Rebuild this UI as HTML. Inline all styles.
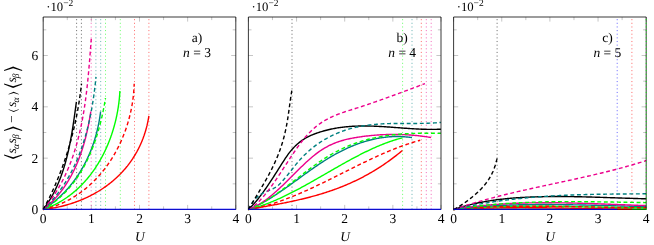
<!DOCTYPE html>
<html lang="en"><head><meta charset="utf-8"><title>Correlations vs U</title>
<style>html,body{margin:0;padding:0;background:#fff}svg{display:block;will-change:transform}text{font-family:"Liberation Serif","DejaVu Serif",serif;font-size:13.5px;fill:#000;text-rendering:geometricPrecision}.i{font-style:italic}.sub{font-size:9.5px}.br{font-family:"DejaVu Math TeX Gyre","DejaVu Sans",sans-serif}</style></head><body>
<svg width="654" height="245" viewBox="0 0 654 245">
<rect width="654" height="245" fill="#fff"/>
<g>
<path d="M43.2 209.5v-4.6M43.2 17v4.6M67.28 209.5v-3.1M67.28 17v3.1M91.35 209.5v-4.6M91.35 17v4.6M115.42 209.5v-3.1M115.42 17v3.1M139.5 209.5v-4.6M139.5 17v4.6M163.57 209.5v-3.1M163.57 17v3.1M187.65 209.5v-4.6M187.65 17v4.6M211.73 209.5v-3.1M211.73 17v3.1M235.8 209.5v-4.6M235.8 17v4.6M43.2 209.5h4.6M235.8 209.5h-4.6M43.2 183.83h3.1M235.8 183.83h-3.1M43.2 158.17h4.6M235.8 158.17h-4.6M43.2 132.5h3.1M235.8 132.5h-3.1M43.2 106.83h4.6M235.8 106.83h-4.6M43.2 81.17h3.1M235.8 81.17h-3.1M43.2 55.5h4.6M235.8 55.5h-4.6M43.2 29.83h3.1M235.8 29.83h-3.1" stroke="#7f7f7f" stroke-width="0.45" fill="none"/>
<path d="M148.9 209.5V17" stroke="#FF0000" stroke-width="0.56" stroke-dasharray="1.1 2.54" fill="none"/>
<path d="M134.5 209.5V17" stroke="#FF0000" stroke-width="0.56" stroke-dasharray="1.1 2.54" fill="none"/>
<path d="M120.3 209.5V17" stroke="#00FF00" stroke-width="0.56" stroke-dasharray="1.1 2.54" fill="none"/>
<path d="M105.5 209.5V17" stroke="#00FF00" stroke-width="0.56" stroke-dasharray="1.1 2.54" fill="none"/>
<path d="M100.7 209.5V17" stroke="#008080" stroke-width="0.56" stroke-dasharray="1.1 2.54" fill="none"/>
<path d="M95.9 209.5V17" stroke="#008080" stroke-width="0.56" stroke-dasharray="1.1 2.54" fill="none"/>
<path d="M91.2 209.5V17" stroke="#EC008C" stroke-width="0.56" stroke-dasharray="1.1 2.54" fill="none"/>
<path d="M81.4 209.5V17" stroke="#000000" stroke-width="0.56" stroke-dasharray="1.1 2.54" fill="none"/>
<path d="M76.6 209.5V17" stroke="#000000" stroke-width="0.56" stroke-dasharray="1.1 2.54" fill="none"/>
<g fill="none" stroke-width="1.4" stroke-linejoin="round">
<path d="M43.2 209.5 L44.2 209.38 L45.2 209.26 L46.19 209.13 L47.18 209 L48.17 208.86 L49.16 208.71 L50.15 208.56 L51.13 208.4 L52.11 208.23 L53.09 208.06 L54.07 207.88 L55.04 207.69 L56.01 207.5 L56.98 207.3 L57.95 207.1 L58.91 206.89 L59.87 206.67 L60.83 206.45 L61.78 206.22 L62.74 205.98 L63.69 205.74 L64.63 205.49 L65.58 205.24 L66.52 204.98 L67.45 204.71 L68.39 204.44 L69.32 204.16 L70.25 203.87 L71.17 203.58 L72.1 203.28 L73.01 202.98 L73.93 202.67 L74.84 202.35 L75.75 202.03 L76.65 201.7 L77.56 201.36 L78.45 201.02 L79.35 200.68 L80.24 200.32 L81.13 199.96 L82.01 199.6 L82.89 199.23 L83.76 198.85 L84.64 198.46 L85.5 198.07 L86.37 197.68 L87.23 197.28 L88.09 196.87 L88.94 196.45 L89.79 196.03 L90.63 195.61 L91.47 195.18 L92.31 194.74 L93.14 194.29 L93.97 193.84 L94.79 193.39 L95.61 192.93 L96.42 192.46 L97.23 191.98 L98.04 191.5 L98.84 191.02 L99.64 190.53 L100.43 190.03 L101.22 189.52 L102 189.01 L102.78 188.5 L103.55 187.98 L104.32 187.45 L105.08 186.92 L105.84 186.38 L106.6 185.83 L107.34 185.28 L108.09 184.72 L108.83 184.16 L109.56 183.59 L110.29 183.02 L111.01 182.44 L111.73 181.85 L112.44 181.26 L113.15 180.66 L113.85 180.06 L114.55 179.45 L115.24 178.84 L115.93 178.22 L116.61 177.59 L117.29 176.96 L117.96 176.32 L118.62 175.68 L119.28 175.03 L119.93 174.37 L120.58 173.71 L121.22 173.04 L121.85 172.37 L122.48 171.69 L123.11 171.01 L123.73 170.32 L124.34 169.63 L124.94 168.93 L125.54 168.22 L126.14 167.51 L126.72 166.79 L127.31 166.07 L127.88 165.34 L128.45 164.6 L129.01 163.86 L129.57 163.12 L130.12 162.37 L130.66 161.61 L131.2 160.85 L131.73 160.08 L132.25 159.31 L132.77 158.53 L133.28 157.74 L133.78 156.95 L134.28 156.16 L134.77 155.36 L135.26 154.55 L135.73 153.74 L136.2 152.92 L136.67 152.1 L137.12 151.27 L137.57 150.44 L138.01 149.6 L138.45 148.75 L138.88 147.9 L139.3 147.04 L139.71 146.18 L140.12 145.32 L140.52 144.44 L140.91 143.57 L141.29 142.68 L141.67 141.8 L142.04 140.9 L142.4 140 L142.76 139.1 L143.1 138.19 L143.44 137.27 L143.77 136.35 L144.1 135.43 L144.41 134.5 L144.72 133.56 L145.02 132.62 L145.32 131.67 L145.6 130.72 L145.88 129.76 L146.15 128.8 L146.41 127.83 L146.66 126.85 L146.91 125.88 L147.14 124.89 L147.37 123.9 L147.59 122.91 L147.8 121.91 L148.01 120.9 L148.2 119.89 L148.39 118.88 L148.57 117.86 L148.74 116.83 L148.9 115.8" stroke="#FF0000"/>
<path d="M43.2 209.5 L44.1 209.19 L45 208.87 L45.89 208.54 L46.77 208.2 L47.65 207.85 L48.53 207.5 L49.4 207.13 L50.26 206.76 L51.12 206.39 L51.97 206 L52.82 205.6 L53.67 205.2 L54.51 204.79 L55.34 204.37 L56.17 203.95 L56.99 203.51 L57.81 203.07 L58.62 202.63 L59.43 202.17 L60.23 201.71 L61.03 201.24 L61.82 200.76 L62.61 200.27 L63.39 199.78 L64.17 199.28 L64.94 198.77 L65.71 198.26 L66.47 197.74 L67.22 197.21 L67.97 196.68 L68.72 196.14 L69.46 195.59 L70.19 195.03 L70.92 194.47 L71.65 193.91 L72.37 193.33 L73.08 192.75 L73.79 192.16 L74.49 191.57 L75.19 190.97 L75.89 190.36 L76.57 189.75 L77.26 189.13 L77.93 188.51 L78.61 187.88 L79.27 187.24 L79.93 186.6 L80.59 185.95 L81.24 185.3 L81.89 184.64 L82.53 183.97 L83.16 183.3 L83.79 182.63 L84.42 181.95 L85.04 181.26 L85.65 180.57 L86.26 179.87 L86.86 179.17 L87.46 178.46 L88.05 177.74 L88.64 177.02 L89.22 176.3 L89.8 175.57 L90.37 174.84 L90.94 174.1 L91.5 173.36 L92.05 172.61 L92.6 171.86 L93.15 171.1 L93.69 170.34 L94.22 169.57 L94.75 168.8 L95.27 168.02 L95.79 167.24 L96.3 166.46 L96.81 165.67 L97.31 164.88 L97.81 164.08 L98.3 163.28 L98.79 162.48 L99.27 161.67 L99.74 160.86 L100.21 160.04 L100.68 159.22 L101.14 158.4 L101.59 157.57 L102.04 156.74 L102.48 155.9 L102.92 155.06 L103.35 154.22 L103.78 153.38 L104.2 152.53 L104.61 151.68 L105.02 150.82 L105.43 149.96 L105.83 149.1 L106.22 148.24 L106.61 147.37 L106.99 146.5 L107.37 145.62 L107.74 144.75 L108.11 143.87 L108.47 142.99 L108.83 142.1 L109.18 141.22 L109.52 140.33 L109.86 139.43 L110.19 138.54 L110.52 137.64 L110.85 136.74 L111.16 135.84 L111.48 134.94 L111.78 134.03 L112.08 133.12 L112.38 132.21 L112.67 131.3 L112.95 130.39 L113.23 129.47 L113.51 128.55 L113.77 127.63 L114.04 126.71 L114.29 125.79 L114.55 124.87 L114.79 123.94 L115.03 123.01 L115.27 122.08 L115.5 121.15 L115.72 120.22 L115.94 119.29 L116.15 118.36 L116.36 117.42 L116.56 116.48 L116.76 115.55 L116.95 114.61 L117.13 113.67 L117.31 112.73 L117.49 111.79 L117.65 110.85 L117.82 109.9 L117.97 108.96 L118.13 108.02 L118.27 107.07 L118.41 106.13 L118.55 105.18 L118.68 104.24 L118.8 103.29 L118.92 102.35 L119.03 101.4 L119.14 100.46 L119.24 99.51 L119.34 98.56 L119.43 97.62 L119.51 96.67 L119.59 95.73 L119.66 94.78 L119.73 93.83 L119.79 92.89 L119.85 91.94 L119.9 91" stroke="#00FF00"/>
<path d="M43.2 209.5 L43.84 209.1 L44.47 208.69 L45.11 208.28 L45.73 207.86 L46.36 207.44 L46.98 207.02 L47.6 206.6 L48.21 206.17 L48.82 205.73 L49.43 205.29 L50.03 204.85 L50.63 204.41 L51.22 203.96 L51.82 203.51 L52.4 203.06 L52.99 202.6 L53.57 202.13 L54.15 201.67 L54.72 201.2 L55.29 200.73 L55.86 200.25 L56.42 199.77 L56.98 199.29 L57.54 198.8 L58.09 198.31 L58.64 197.82 L59.19 197.33 L59.73 196.83 L60.27 196.32 L60.8 195.82 L61.34 195.31 L61.86 194.8 L62.39 194.28 L62.91 193.76 L63.43 193.24 L63.94 192.72 L64.45 192.19 L64.96 191.66 L65.46 191.13 L65.96 190.59 L66.46 190.05 L66.95 189.51 L67.44 188.96 L67.92 188.41 L68.4 187.86 L68.88 187.31 L69.36 186.75 L69.83 186.19 L70.3 185.63 L70.76 185.06 L71.22 184.49 L71.68 183.92 L72.13 183.35 L72.58 182.77 L73.03 182.19 L73.47 181.61 L73.91 181.03 L74.35 180.44 L74.78 179.85 L75.21 179.26 L75.64 178.66 L76.06 178.07 L76.48 177.47 L76.89 176.86 L77.3 176.26 L77.71 175.65 L78.12 175.04 L78.52 174.43 L78.91 173.82 L79.31 173.2 L79.7 172.58 L80.09 171.96 L80.47 171.33 L80.85 170.71 L81.23 170.08 L81.6 169.45 L81.97 168.82 L82.34 168.18 L82.7 167.55 L83.06 166.91 L83.41 166.27 L83.77 165.62 L84.12 164.98 L84.46 164.33 L84.8 163.68 L85.14 163.03 L85.48 162.37 L85.81 161.72 L86.14 161.06 L86.46 160.4 L86.78 159.74 L87.1 159.08 L87.41 158.41 L87.72 157.75 L88.03 157.08 L88.34 156.41 L88.64 155.74 L88.93 155.06 L89.23 154.39 L89.52 153.71 L89.8 153.03 L90.09 152.35 L90.37 151.67 L90.64 150.98 L90.92 150.3 L91.19 149.61 L91.45 148.92 L91.71 148.23 L91.97 147.54 L92.23 146.85 L92.48 146.15 L92.73 145.45 L92.98 144.76 L93.22 144.06 L93.46 143.36 L93.69 142.66 L93.92 141.95 L94.15 141.25 L94.38 140.54 L94.6 139.84 L94.82 139.13 L95.03 138.42 L95.24 137.71 L95.45 137 L95.66 136.28 L95.86 135.57 L96.05 134.85 L96.25 134.14 L96.44 133.42 L96.63 132.7 L96.81 131.98 L96.99 131.26 L97.17 130.54 L97.34 129.82 L97.52 129.09 L97.68 128.37 L97.85 127.64 L98.01 126.92 L98.16 126.19 L98.32 125.46 L98.47 124.73 L98.62 124 L98.76 123.27 L98.9 122.54 L99.04 121.81 L99.17 121.08 L99.3 120.34 L99.43 119.61 L99.55 118.88 L99.67 118.14 L99.79 117.41 L99.9 116.67 L100.01 115.93 L100.12 115.19 L100.22 114.46 L100.32 113.72 L100.42 112.98 L100.51 112.24 L100.6 111.5" stroke="#008080"/>
<path d="M43.2 209.5 L43.77 209.05 L44.33 208.6 L44.89 208.15 L45.44 207.69 L45.99 207.23 L46.54 206.77 L47.08 206.3 L47.61 205.83 L48.15 205.36 L48.67 204.88 L49.2 204.4 L49.72 203.92 L50.23 203.43 L50.75 202.94 L51.25 202.45 L51.76 201.96 L52.26 201.46 L52.75 200.96 L53.24 200.46 L53.73 199.95 L54.22 199.44 L54.7 198.93 L55.17 198.41 L55.64 197.89 L56.11 197.37 L56.58 196.85 L57.04 196.32 L57.49 195.8 L57.94 195.26 L58.39 194.73 L58.84 194.19 L59.28 193.65 L59.72 193.11 L60.15 192.57 L60.58 192.02 L61.01 191.47 L61.43 190.92 L61.85 190.36 L62.26 189.8 L62.67 189.24 L63.08 188.68 L63.49 188.12 L63.89 187.55 L64.28 186.98 L64.68 186.41 L65.07 185.83 L65.45 185.26 L65.84 184.68 L66.22 184.1 L66.59 183.51 L66.97 182.93 L67.34 182.34 L67.7 181.75 L68.06 181.16 L68.42 180.56 L68.78 179.97 L69.13 179.37 L69.48 178.77 L69.83 178.17 L70.17 177.56 L70.51 176.95 L70.84 176.35 L71.18 175.74 L71.51 175.12 L71.83 174.51 L72.15 173.89 L72.47 173.28 L72.79 172.66 L73.11 172.03 L73.42 171.41 L73.72 170.79 L74.03 170.16 L74.33 169.53 L74.63 168.9 L74.92 168.27 L75.22 167.63 L75.51 167 L75.79 166.36 L76.07 165.72 L76.36 165.08 L76.63 164.44 L76.91 163.8 L77.18 163.15 L77.45 162.51 L77.72 161.86 L77.98 161.21 L78.24 160.56 L78.5 159.91 L78.75 159.26 L79 158.6 L79.25 157.95 L79.5 157.29 L79.74 156.63 L79.99 155.97 L80.23 155.31 L80.46 154.65 L80.7 153.99 L80.93 153.32 L81.15 152.66 L81.38 151.99 L81.6 151.32 L81.82 150.65 L82.04 149.98 L82.26 149.31 L82.47 148.64 L82.68 147.97 L82.89 147.29 L83.1 146.62 L83.3 145.94 L83.5 145.27 L83.7 144.59 L83.9 143.91 L84.09 143.23 L84.28 142.55 L84.47 141.87 L84.66 141.19 L84.84 140.51 L85.03 139.83 L85.21 139.14 L85.38 138.46 L85.56 137.77 L85.73 137.09 L85.91 136.4 L86.08 135.72 L86.24 135.03 L86.41 134.34 L86.57 133.65 L86.73 132.96 L86.89 132.28 L87.05 131.59 L87.2 130.9 L87.36 130.21 L87.51 129.52 L87.66 128.82 L87.8 128.13 L87.95 127.44 L88.09 126.75 L88.23 126.06 L88.37 125.36 L88.51 124.67 L88.65 123.98 L88.78 123.29 L88.91 122.59 L89.04 121.9 L89.17 121.21 L89.3 120.51 L89.43 119.82 L89.55 119.13 L89.67 118.43 L89.79 117.74 L89.91 117.04 L90.03 116.35 L90.14 115.66 L90.26 114.96 L90.37 114.27 L90.48 113.58 L90.59 112.89 L90.69 112.19 L90.8 111.5" stroke="#EC008C"/>
<path d="M43.2 209.5 L43.64 208.93 L44.07 208.35 L44.49 207.77 L44.92 207.19 L45.33 206.6 L45.75 206.02 L46.16 205.43 L46.56 204.84 L46.96 204.25 L47.36 203.65 L47.75 203.05 L48.14 202.46 L48.53 201.85 L48.91 201.25 L49.29 200.65 L49.66 200.04 L50.03 199.43 L50.4 198.82 L50.76 198.2 L51.12 197.59 L51.47 196.97 L51.82 196.35 L52.17 195.73 L52.52 195.11 L52.85 194.48 L53.19 193.85 L53.52 193.22 L53.85 192.59 L54.18 191.96 L54.5 191.33 L54.82 190.69 L55.13 190.05 L55.45 189.41 L55.75 188.77 L56.06 188.13 L56.36 187.49 L56.66 186.84 L56.95 186.19 L57.24 185.54 L57.53 184.89 L57.82 184.24 L58.1 183.59 L58.38 182.93 L58.65 182.27 L58.93 181.61 L59.19 180.95 L59.46 180.29 L59.72 179.63 L59.98 178.97 L60.24 178.3 L60.5 177.63 L60.75 176.96 L61 176.3 L61.24 175.62 L61.48 174.95 L61.72 174.28 L61.96 173.6 L62.2 172.93 L62.43 172.25 L62.66 171.57 L62.88 170.89 L63.11 170.21 L63.33 169.53 L63.54 168.85 L63.76 168.16 L63.97 167.48 L64.18 166.79 L64.39 166.1 L64.6 165.42 L64.8 164.73 L65 164.04 L65.2 163.35 L65.4 162.65 L65.59 161.96 L65.78 161.27 L65.97 160.57 L66.16 159.88 L66.34 159.18 L66.53 158.48 L66.71 157.78 L66.88 157.09 L67.06 156.39 L67.23 155.69 L67.41 154.98 L67.58 154.28 L67.74 153.58 L67.91 152.88 L68.07 152.17 L68.24 151.47 L68.4 150.76 L68.55 150.06 L68.71 149.35 L68.87 148.65 L69.02 147.94 L69.17 147.23 L69.32 146.52 L69.47 145.81 L69.61 145.11 L69.76 144.4 L69.9 143.69 L70.04 142.98 L70.18 142.27 L70.32 141.55 L70.45 140.84 L70.59 140.13 L70.72 139.42 L70.85 138.71 L70.98 137.99 L71.11 137.28 L71.24 136.57 L71.37 135.86 L71.49 135.14 L71.62 134.43 L71.74 133.72 L71.86 133 L71.98 132.29 L72.1 131.58 L72.22 130.86 L72.34 130.15 L72.45 129.43 L72.57 128.72 L72.68 128.01 L72.79 127.29 L72.9 126.58 L73.01 125.87 L73.12 125.15 L73.23 124.44 L73.34 123.73 L73.45 123.01 L73.55 122.3 L73.66 121.59 L73.76 120.88 L73.87 120.16 L73.97 119.45 L74.07 118.74 L74.18 118.03 L74.28 117.32 L74.38 116.61 L74.48 115.9 L74.58 115.19 L74.68 114.48 L74.77 113.77 L74.87 113.06 L74.97 112.35 L75.07 111.65 L75.16 110.94 L75.26 110.23 L75.36 109.53 L75.45 108.82 L75.55 108.12 L75.64 107.41 L75.74 106.71 L75.83 106 L75.93 105.3 L76.02 104.6 L76.12 103.9 L76.21 103.2 L76.31 102.5 L76.4 101.8" stroke="#000000"/>
<path d="M43.2 209.5 L44.26 209.25 L45.32 208.99 L46.37 208.72 L47.42 208.43 L48.46 208.14 L49.49 207.84 L50.52 207.53 L51.55 207.21 L52.56 206.87 L53.58 206.53 L54.58 206.18 L55.58 205.82 L56.58 205.44 L57.57 205.06 L58.55 204.67 L59.53 204.27 L60.5 203.86 L61.47 203.44 L62.43 203.01 L63.38 202.58 L64.33 202.13 L65.27 201.67 L66.21 201.21 L67.14 200.73 L68.07 200.25 L68.98 199.76 L69.9 199.26 L70.81 198.75 L71.71 198.23 L72.6 197.71 L73.49 197.17 L74.38 196.63 L75.25 196.08 L76.13 195.52 L76.99 194.95 L77.85 194.37 L78.71 193.79 L79.55 193.2 L80.39 192.6 L81.23 191.99 L82.06 191.37 L82.88 190.75 L83.7 190.12 L84.51 189.48 L85.32 188.84 L86.12 188.18 L86.91 187.52 L87.7 186.85 L88.48 186.18 L89.25 185.5 L90.02 184.81 L90.78 184.11 L91.54 183.41 L92.29 182.7 L93.03 181.98 L93.77 181.26 L94.5 180.53 L95.22 179.79 L95.94 179.05 L96.66 178.3 L97.36 177.54 L98.06 176.78 L98.75 176.01 L99.44 175.23 L100.12 174.45 L100.8 173.66 L101.46 172.87 L102.13 172.07 L102.78 171.27 L103.43 170.46 L104.07 169.64 L104.71 168.82 L105.34 167.99 L105.96 167.16 L106.58 166.32 L107.19 165.47 L107.79 164.63 L108.39 163.77 L108.98 162.91 L109.57 162.05 L110.14 161.18 L110.71 160.3 L111.28 159.43 L111.84 158.54 L112.39 157.65 L112.93 156.76 L113.47 155.86 L114 154.96 L114.53 154.05 L115.05 153.14 L115.56 152.23 L116.07 151.31 L116.56 150.38 L117.06 149.45 L117.54 148.52 L118.02 147.59 L118.49 146.65 L118.96 145.7 L119.42 144.76 L119.87 143.8 L120.31 142.85 L120.75 141.89 L121.18 140.93 L121.61 139.97 L122.03 139 L122.44 138.03 L122.84 137.05 L123.24 136.07 L123.63 135.09 L124.01 134.11 L124.39 133.12 L124.76 132.13 L125.12 131.14 L125.48 130.14 L125.83 129.15 L126.17 128.15 L126.51 127.14 L126.84 126.14 L127.16 125.13 L127.47 124.12 L127.78 123.11 L128.08 122.09 L128.38 121.08 L128.66 120.06 L128.94 119.04 L129.22 118.02 L129.48 116.99 L129.74 115.97 L129.99 114.94 L130.24 113.91 L130.47 112.88 L130.7 111.85 L130.93 110.82 L131.14 109.78 L131.35 108.75 L131.55 107.71 L131.75 106.67 L131.94 105.63 L132.12 104.59 L132.29 103.55 L132.46 102.51 L132.61 101.47 L132.77 100.43 L132.91 99.38 L133.05 98.34 L133.18 97.29 L133.3 96.25 L133.42 95.2 L133.52 94.16 L133.62 93.11 L133.72 92.06 L133.8 91.02 L133.88 89.97 L133.95 88.93 L134.02 87.88 L134.07 86.83 L134.12 85.79 L134.16 84.74 L134.2 83.7" stroke="#FF0000" stroke-dasharray="3.9 2.65"/>
<path d="M43.2 209.5 L43.95 209.07 L44.69 208.63 L45.42 208.19 L46.15 207.74 L46.88 207.28 L47.6 206.82 L48.31 206.36 L49.02 205.89 L49.72 205.41 L50.42 204.93 L51.11 204.45 L51.79 203.96 L52.47 203.46 L53.15 202.96 L53.82 202.46 L54.48 201.95 L55.14 201.43 L55.79 200.91 L56.44 200.39 L57.09 199.86 L57.72 199.33 L58.36 198.79 L58.98 198.25 L59.6 197.7 L60.22 197.15 L60.83 196.59 L61.44 196.03 L62.04 195.47 L62.64 194.9 L63.23 194.32 L63.81 193.74 L64.39 193.16 L64.97 192.58 L65.54 191.98 L66.11 191.39 L66.67 190.79 L67.23 190.19 L67.78 189.58 L68.32 188.97 L68.87 188.35 L69.4 187.74 L69.94 187.11 L70.46 186.49 L70.99 185.86 L71.51 185.22 L72.02 184.58 L72.53 183.94 L73.03 183.3 L73.53 182.65 L74.03 182 L74.52 181.34 L75 180.68 L75.48 180.02 L75.96 179.35 L76.43 178.68 L76.9 178.01 L77.36 177.33 L77.82 176.66 L78.28 175.97 L78.73 175.29 L79.17 174.6 L79.62 173.91 L80.05 173.21 L80.49 172.51 L80.91 171.81 L81.34 171.11 L81.76 170.4 L82.18 169.69 L82.59 168.98 L83 168.26 L83.4 167.55 L83.8 166.83 L84.19 166.1 L84.59 165.38 L84.97 164.65 L85.36 163.92 L85.74 163.18 L86.11 162.45 L86.48 161.71 L86.85 160.97 L87.21 160.22 L87.57 159.48 L87.93 158.73 L88.28 157.98 L88.63 157.23 L88.98 156.47 L89.32 155.71 L89.65 154.96 L89.99 154.19 L90.32 153.43 L90.64 152.67 L90.97 151.9 L91.29 151.13 L91.6 150.36 L91.91 149.59 L92.22 148.81 L92.53 148.04 L92.83 147.26 L93.13 146.48 L93.42 145.7 L93.71 144.92 L94 144.13 L94.28 143.35 L94.56 142.56 L94.84 141.77 L95.11 140.98 L95.39 140.19 L95.65 139.4 L95.92 138.6 L96.18 137.81 L96.44 137.01 L96.69 136.21 L96.94 135.41 L97.19 134.61 L97.44 133.81 L97.68 133.01 L97.92 132.21 L98.15 131.4 L98.39 130.6 L98.62 129.79 L98.84 128.99 L99.07 128.18 L99.29 127.37 L99.51 126.56 L99.72 125.75 L99.94 124.94 L100.15 124.13 L100.35 123.32 L100.56 122.51 L100.76 121.7 L100.96 120.88 L101.15 120.07 L101.35 119.26 L101.54 118.44 L101.72 117.63 L101.91 116.81 L102.09 116 L102.27 115.18 L102.45 114.37 L102.63 113.55 L102.8 112.74 L102.97 111.92 L103.14 111.11 L103.3 110.29 L103.46 109.48 L103.62 108.66 L103.78 107.85 L103.94 107.03 L104.09 106.22 L104.24 105.41 L104.39 104.59 L104.54 103.78 L104.68 102.97 L104.82 102.15 L104.96 101.34 L105.1 100.53 L105.24 99.72 L105.37 98.91 L105.5 98.1" stroke="#00FF00" stroke-dasharray="3.9 2.65"/>
<path d="M43.2 209.5 L43.88 208.86 L44.56 208.21 L45.23 207.57 L45.89 206.91 L46.55 206.26 L47.2 205.6 L47.85 204.93 L48.49 204.26 L49.12 203.59 L49.75 202.91 L50.38 202.24 L51 201.55 L51.61 200.87 L52.22 200.17 L52.82 199.48 L53.42 198.78 L54.01 198.08 L54.6 197.38 L55.18 196.67 L55.76 195.96 L56.33 195.24 L56.89 194.52 L57.45 193.8 L58.01 193.08 L58.56 192.35 L59.1 191.62 L59.64 190.88 L60.18 190.14 L60.71 189.4 L61.23 188.66 L61.75 187.91 L62.27 187.16 L62.78 186.4 L63.28 185.65 L63.78 184.89 L64.28 184.12 L64.77 183.36 L65.25 182.59 L65.73 181.82 L66.21 181.04 L66.68 180.27 L67.15 179.49 L67.61 178.7 L68.07 177.92 L68.52 177.13 L68.97 176.34 L69.41 175.54 L69.85 174.75 L70.28 173.95 L70.71 173.14 L71.14 172.34 L71.56 171.53 L71.97 170.72 L72.38 169.91 L72.79 169.1 L73.19 168.28 L73.59 167.46 L73.99 166.64 L74.38 165.82 L74.76 164.99 L75.14 164.16 L75.52 163.33 L75.89 162.5 L76.26 161.67 L76.63 160.83 L76.99 159.99 L77.34 159.15 L77.7 158.31 L78.04 157.46 L78.39 156.62 L78.73 155.77 L79.07 154.92 L79.4 154.06 L79.73 153.21 L80.05 152.35 L80.37 151.49 L80.69 150.63 L81 149.77 L81.31 148.91 L81.62 148.04 L81.92 147.18 L82.22 146.31 L82.51 145.44 L82.8 144.57 L83.09 143.69 L83.37 142.82 L83.65 141.94 L83.93 141.07 L84.2 140.19 L84.47 139.31 L84.73 138.43 L85 137.54 L85.26 136.66 L85.51 135.77 L85.76 134.89 L86.01 134 L86.26 133.11 L86.5 132.22 L86.74 131.33 L86.97 130.43 L87.2 129.54 L87.43 128.65 L87.66 127.75 L87.88 126.85 L88.1 125.96 L88.32 125.06 L88.53 124.16 L88.74 123.26 L88.95 122.36 L89.15 121.45 L89.35 120.55 L89.55 119.65 L89.75 118.74 L89.94 117.84 L90.13 116.93 L90.32 116.03 L90.5 115.12 L90.68 114.21 L90.86 113.31 L91.03 112.4 L91.21 111.49 L91.38 110.58 L91.55 109.67 L91.71 108.76 L91.87 107.85 L92.03 106.94 L92.19 106.03 L92.34 105.12 L92.49 104.21 L92.64 103.29 L92.79 102.38 L92.94 101.47 L93.08 100.56 L93.22 99.65 L93.35 98.73 L93.49 97.82 L93.62 96.91 L93.75 96 L93.88 95.08 L94.01 94.17 L94.13 93.26 L94.25 92.35 L94.37 91.44 L94.49 90.53 L94.6 89.61 L94.71 88.7 L94.82 87.79 L94.93 86.88 L95.04 85.97 L95.14 85.06 L95.25 84.15 L95.35 83.25 L95.45 82.34 L95.54 81.43 L95.64 80.52 L95.73 79.62 L95.82 78.71 L95.91 77.8 L96 76.9" stroke="#008080" stroke-dasharray="3.9 2.65"/>
<path d="M43.2 209.5 L43.95 208.62 L44.7 207.73 L45.43 206.84 L46.16 205.94 L46.87 205.04 L47.58 204.13 L48.28 203.22 L48.98 202.31 L49.66 201.39 L50.34 200.47 L51.01 199.54 L51.66 198.61 L52.32 197.67 L52.96 196.74 L53.6 195.79 L54.22 194.85 L54.84 193.9 L55.46 192.94 L56.06 191.99 L56.66 191.03 L57.25 190.06 L57.83 189.09 L58.41 188.12 L58.97 187.15 L59.53 186.17 L60.09 185.18 L60.63 184.2 L61.17 183.21 L61.7 182.22 L62.22 181.22 L62.74 180.22 L63.25 179.22 L63.75 178.21 L64.25 177.21 L64.74 176.19 L65.22 175.18 L65.7 174.16 L66.17 173.14 L66.63 172.11 L67.09 171.09 L67.54 170.06 L67.98 169.03 L68.42 167.99 L68.85 166.95 L69.27 165.91 L69.69 164.87 L70.11 163.82 L70.51 162.77 L70.91 161.72 L71.31 160.66 L71.7 159.61 L72.08 158.55 L72.46 157.49 L72.83 156.42 L73.19 155.35 L73.55 154.29 L73.91 153.21 L74.26 152.14 L74.6 151.06 L74.94 149.99 L75.27 148.91 L75.6 147.82 L75.92 146.74 L76.24 145.65 L76.55 144.56 L76.86 143.47 L77.16 142.38 L77.46 141.29 L77.75 140.19 L78.04 139.09 L78.32 137.99 L78.6 136.89 L78.88 135.79 L79.14 134.69 L79.41 133.58 L79.67 132.47 L79.92 131.36 L80.18 130.25 L80.42 129.14 L80.67 128.02 L80.9 126.91 L81.14 125.79 L81.37 124.67 L81.6 123.55 L81.82 122.43 L82.04 121.31 L82.25 120.19 L82.46 119.07 L82.67 117.94 L82.87 116.81 L83.07 115.69 L83.27 114.56 L83.46 113.43 L83.65 112.3 L83.84 111.17 L84.02 110.04 L84.2 108.9 L84.38 107.77 L84.55 106.64 L84.72 105.5 L84.89 104.37 L85.05 103.23 L85.21 102.09 L85.37 100.96 L85.53 99.82 L85.68 98.68 L85.83 97.54 L85.98 96.4 L86.12 95.26 L86.26 94.13 L86.4 92.99 L86.54 91.85 L86.68 90.71 L86.81 89.57 L86.94 88.42 L87.07 87.28 L87.19 86.14 L87.32 85 L87.44 83.86 L87.56 82.72 L87.68 81.58 L87.79 80.44 L87.91 79.3 L88.02 78.16 L88.13 77.02 L88.24 75.88 L88.35 74.74 L88.45 73.61 L88.56 72.47 L88.66 71.33 L88.76 70.19 L88.86 69.06 L88.96 67.92 L89.06 66.78 L89.16 65.65 L89.25 64.51 L89.35 63.38 L89.44 62.25 L89.54 61.12 L89.63 59.99 L89.72 58.86 L89.81 57.73 L89.9 56.6 L89.99 55.47 L90.08 54.34 L90.17 53.22 L90.26 52.09 L90.34 50.97 L90.43 49.85 L90.52 48.73 L90.61 47.61 L90.69 46.49 L90.78 45.37 L90.87 44.26 L90.95 43.14 L91.04 42.03 L91.13 40.92 L91.21 39.81 L91.3 38.7" stroke="#EC008C" stroke-dasharray="3.9 2.65"/>
<path d="M43.2 209.5 L43.6 208.77 L43.99 208.05 L44.38 207.32 L44.77 206.59 L45.16 205.86 L45.55 205.12 L45.93 204.39 L46.32 203.65 L46.7 202.92 L47.07 202.18 L47.45 201.44 L47.83 200.7 L48.2 199.96 L48.57 199.22 L48.94 198.48 L49.3 197.73 L49.67 196.99 L50.03 196.24 L50.39 195.5 L50.75 194.75 L51.1 194 L51.46 193.25 L51.81 192.5 L52.16 191.74 L52.51 190.99 L52.86 190.24 L53.2 189.48 L53.54 188.73 L53.88 187.97 L54.22 187.21 L54.56 186.45 L54.89 185.69 L55.22 184.93 L55.55 184.17 L55.88 183.4 L56.21 182.64 L56.53 181.87 L56.86 181.11 L57.18 180.34 L57.49 179.57 L57.81 178.8 L58.13 178.03 L58.44 177.26 L58.75 176.49 L59.06 175.72 L59.36 174.95 L59.67 174.17 L59.97 173.4 L60.27 172.62 L60.57 171.84 L60.87 171.07 L61.16 170.29 L61.45 169.51 L61.74 168.73 L62.03 167.95 L62.32 167.17 L62.6 166.38 L62.89 165.6 L63.17 164.82 L63.45 164.03 L63.72 163.24 L64 162.46 L64.27 161.67 L64.54 160.88 L64.81 160.09 L65.08 159.31 L65.35 158.52 L65.61 157.72 L65.87 156.93 L66.13 156.14 L66.39 155.35 L66.64 154.55 L66.9 153.76 L67.15 152.97 L67.4 152.17 L67.64 151.37 L67.89 150.58 L68.13 149.78 L68.38 148.98 L68.62 148.18 L68.85 147.38 L69.09 146.58 L69.32 145.78 L69.56 144.98 L69.79 144.18 L70.01 143.38 L70.24 142.57 L70.46 141.77 L70.69 140.97 L70.91 140.16 L71.13 139.35 L71.34 138.55 L71.56 137.74 L71.77 136.94 L71.98 136.13 L72.19 135.32 L72.4 134.51 L72.6 133.7 L72.8 132.89 L73.01 132.08 L73.2 131.27 L73.4 130.46 L73.6 129.65 L73.79 128.84 L73.98 128.03 L74.17 127.21 L74.36 126.4 L74.55 125.59 L74.73 124.77 L74.91 123.96 L75.09 123.14 L75.27 122.33 L75.45 121.51 L75.62 120.7 L75.79 119.88 L75.96 119.06 L76.13 118.25 L76.3 117.43 L76.46 116.61 L76.63 115.79 L76.79 114.98 L76.95 114.16 L77.1 113.34 L77.26 112.52 L77.41 111.7 L77.56 110.88 L77.71 110.06 L77.86 109.24 L78.01 108.42 L78.15 107.6 L78.29 106.77 L78.43 105.95 L78.57 105.13 L78.71 104.31 L78.84 103.49 L78.97 102.66 L79.1 101.84 L79.23 101.02 L79.36 100.2 L79.48 99.37 L79.61 98.55 L79.73 97.72 L79.85 96.9 L79.96 96.08 L80.08 95.25 L80.19 94.43 L80.31 93.6 L80.42 92.78 L80.52 91.95 L80.63 91.13 L80.73 90.3 L80.84 89.48 L80.94 88.65 L81.04 87.83 L81.13 87 L81.23 86.18 L81.32 85.35 L81.41 84.53 L81.5 83.7" stroke="#000000" stroke-dasharray="3.9 2.65"/>
</g>
<path d="M43.2 17H235.8V209.5H43.2Z" stroke="#000" stroke-width="0.78" fill="none"/>
</g>
<g>
<path d="M248.4 209.5v-4.6M248.4 17v4.6M272.48 209.5v-3.1M272.48 17v3.1M296.55 209.5v-4.6M296.55 17v4.6M320.62 209.5v-3.1M320.62 17v3.1M344.7 209.5v-4.6M344.7 17v4.6M368.77 209.5v-3.1M368.77 17v3.1M392.85 209.5v-4.6M392.85 17v4.6M416.93 209.5v-3.1M416.93 17v3.1M441 209.5v-4.6M441 17v4.6M248.4 209.5h4.6M441 209.5h-4.6M248.4 183.83h3.1M441 183.83h-3.1M248.4 158.17h4.6M441 158.17h-4.6M248.4 132.5h3.1M441 132.5h-3.1M248.4 106.83h4.6M441 106.83h-4.6M248.4 81.17h3.1M441 81.17h-3.1M248.4 55.5h4.6M441 55.5h-4.6M248.4 29.83h3.1M441 29.83h-3.1" stroke="#7f7f7f" stroke-width="0.45" fill="none"/>
<path d="M402.6 209.5V17" stroke="#00FF00" stroke-width="0.56" stroke-dasharray="1.1 2.54" fill="none"/>
<path d="M412 209.5V17" stroke="#008080" stroke-width="0.56" stroke-dasharray="1.1 2.54" fill="none"/>
<path d="M421.3 209.5V17" stroke="#FF0000" stroke-width="0.56" stroke-dasharray="1.1 2.54" fill="none"/>
<path d="M426.3 209.5V17" stroke="#EC008C" stroke-width="0.56" stroke-dasharray="1.1 2.54" fill="none"/>
<path d="M431.2 209.5V17" stroke="#EC008C" stroke-width="0.56" stroke-dasharray="1.1 2.54" fill="none"/>
<path d="M292 209.5V17" stroke="#000000" stroke-width="0.56" stroke-dasharray="1.1 2.54" fill="none"/>
<g fill="none" stroke-width="1.4" stroke-linejoin="round">
<path d="M248.4 209.5 L249.4 209.32 L250.4 209.14 L251.4 208.96 L252.4 208.78 L253.4 208.6 L254.4 208.42 L255.4 208.24 L256.4 208.06 L257.4 207.89 L258.4 207.71 L259.4 207.53 L260.4 207.35 L261.4 207.17 L262.4 206.99 L263.4 206.82 L264.4 206.64 L265.4 206.46 L266.4 206.28 L267.4 206.1 L268.4 205.91 L269.4 205.73 L270.4 205.55 L271.4 205.37 L272.4 205.18 L273.4 205 L274.4 204.81 L275.4 204.63 L276.4 204.44 L277.4 204.25 L278.4 204.06 L279.4 203.87 L280.4 203.68 L281.4 203.48 L282.4 203.29 L283.4 203.09 L284.4 202.89 L285.4 202.69 L286.4 202.49 L287.4 202.28 L288.4 202.08 L289.4 201.87 L290.4 201.66 L291.4 201.45 L292.4 201.23 L293.4 201.02 L294.4 200.8 L295.4 200.58 L296.4 200.36 L297.4 200.13 L298.4 199.91 L299.4 199.68 L300.4 199.44 L301.4 199.21 L302.4 198.97 L303.4 198.73 L304.4 198.48 L305.4 198.24 L306.4 197.99 L307.4 197.74 L308.4 197.48 L309.4 197.22 L310.4 196.96 L311.4 196.69 L312.4 196.42 L313.4 196.15 L314.4 195.88 L315.4 195.6 L316.4 195.31 L317.4 195.03 L318.4 194.74 L319.4 194.44 L320.4 194.14 L321.4 193.84 L322.4 193.54 L323.4 193.23 L324.4 192.91 L325.4 192.59 L326.4 192.27 L327.4 191.94 L328.4 191.61 L329.4 191.28 L330.4 190.94 L331.4 190.59 L332.4 190.24 L333.4 189.89 L334.4 189.53 L335.4 189.17 L336.4 188.8 L337.4 188.42 L338.4 188.05 L339.4 187.66 L340.4 187.27 L341.4 186.88 L342.4 186.48 L343.4 186.08 L344.4 185.67 L345.4 185.25 L346.4 184.83 L347.4 184.4 L348.4 183.97 L349.4 183.53 L350.4 183.09 L351.4 182.64 L352.4 182.19 L353.4 181.72 L354.4 181.26 L355.4 180.78 L356.4 180.3 L357.4 179.82 L358.4 179.33 L359.4 178.83 L360.4 178.32 L361.4 177.81 L362.4 177.29 L363.4 176.77 L364.4 176.24 L365.4 175.7 L366.4 175.16 L367.4 174.61 L368.4 174.05 L369.4 173.48 L370.4 172.91 L371.4 172.33 L372.4 171.74 L373.4 171.15 L374.4 170.55 L375.4 169.94 L376.4 169.32 L377.4 168.7 L378.4 168.07 L379.4 167.43 L380.4 166.79 L381.4 166.13 L382.4 165.47 L383.4 164.8 L384.4 164.12 L385.4 163.44 L386.4 162.74 L387.4 162.04 L388.4 161.33 L389.4 160.61 L390.4 159.89 L391.4 159.15 L392.4 158.41 L393.4 157.66 L394.4 156.9 L395.4 156.13 L396.4 155.35 L397.4 154.56 L398.4 153.77 L399.4 152.96 L400.4 152.15 L401.4 151.33 L402.4 150.5" stroke="#FF0000"/>
<path d="M248.4 209.5 L249.4 209.26 L250.4 209.01 L251.4 208.75 L252.4 208.48 L253.4 208.21 L254.4 207.93 L255.4 207.64 L256.4 207.34 L257.4 207.03 L258.4 206.72 L259.4 206.39 L260.4 206.06 L261.4 205.73 L262.4 205.38 L263.4 205.03 L264.4 204.67 L265.4 204.31 L266.4 203.93 L267.4 203.55 L268.4 203.17 L269.4 202.78 L270.4 202.38 L271.4 201.97 L272.4 201.56 L273.4 201.15 L274.4 200.72 L275.4 200.29 L276.4 199.86 L277.4 199.42 L278.4 198.97 L279.4 198.52 L280.4 198.07 L281.4 197.6 L282.4 197.14 L283.4 196.67 L284.4 196.19 L285.4 195.71 L286.4 195.22 L287.4 194.73 L288.4 194.24 L289.4 193.74 L290.4 193.24 L291.4 192.73 L292.4 192.22 L293.4 191.71 L294.4 191.19 L295.4 190.67 L296.4 190.14 L297.4 189.61 L298.4 189.08 L299.4 188.54 L300.4 188.01 L301.4 187.47 L302.4 186.92 L303.4 186.38 L304.4 185.83 L305.4 185.28 L306.4 184.72 L307.4 184.17 L308.4 183.61 L309.4 183.05 L310.4 182.49 L311.4 181.92 L312.4 181.36 L313.4 180.79 L314.4 180.22 L315.4 179.65 L316.4 179.08 L317.4 178.51 L318.4 177.94 L319.4 177.36 L320.4 176.79 L321.4 176.22 L322.4 175.64 L323.4 175.06 L324.4 174.49 L325.4 173.91 L326.4 173.33 L327.4 172.76 L328.4 172.18 L329.4 171.6 L330.4 171.03 L331.4 170.45 L332.4 169.88 L333.4 169.3 L334.4 168.73 L335.4 168.16 L336.4 167.59 L337.4 167.02 L338.4 166.45 L339.4 165.88 L340.4 165.32 L341.4 164.75 L342.4 164.19 L343.4 163.63 L344.4 163.07 L345.4 162.51 L346.4 161.96 L347.4 161.41 L348.4 160.86 L349.4 160.31 L350.4 159.76 L351.4 159.22 L352.4 158.68 L353.4 158.15 L354.4 157.61 L355.4 157.08 L356.4 156.56 L357.4 156.03 L358.4 155.51 L359.4 155 L360.4 154.48 L361.4 153.98 L362.4 153.47 L363.4 152.97 L364.4 152.48 L365.4 151.98 L366.4 151.5 L367.4 151.01 L368.4 150.53 L369.4 150.06 L370.4 149.59 L371.4 149.13 L372.4 148.67 L373.4 148.22 L374.4 147.77 L375.4 147.33 L376.4 146.89 L377.4 146.46 L378.4 146.03 L379.4 145.61 L380.4 145.2 L381.4 144.79 L382.4 144.39 L383.4 143.99 L384.4 143.61 L385.4 143.22 L386.4 142.85 L387.4 142.48 L388.4 142.12 L389.4 141.76 L390.4 141.42 L391.4 141.08 L392.4 140.74 L393.4 140.42 L394.4 140.1 L395.4 139.79 L396.4 139.49 L397.4 139.19 L398.4 138.91 L399.4 138.63 L400.4 138.36 L401.4 138.1 L402.4 137.84 L402.6 137.79" stroke="#00FF00"/>
<path d="M248.4 209.5 L249.4 209.1 L250.4 208.69 L251.4 208.27 L252.4 207.84 L253.4 207.39 L254.4 206.93 L255.4 206.46 L256.4 205.97 L257.4 205.48 L258.4 204.98 L259.4 204.46 L260.4 203.93 L261.4 203.4 L262.4 202.85 L263.4 202.3 L264.4 201.73 L265.4 201.16 L266.4 200.57 L267.4 199.98 L268.4 199.38 L269.4 198.78 L270.4 198.16 L271.4 197.54 L272.4 196.91 L273.4 196.27 L274.4 195.63 L275.4 194.98 L276.4 194.32 L277.4 193.66 L278.4 192.99 L279.4 192.32 L280.4 191.64 L281.4 190.95 L282.4 190.27 L283.4 189.58 L284.4 188.88 L285.4 188.18 L286.4 187.48 L287.4 186.77 L288.4 186.06 L289.4 185.35 L290.4 184.63 L291.4 183.92 L292.4 183.2 L293.4 182.48 L294.4 181.75 L295.4 181.03 L296.4 180.31 L297.4 179.58 L298.4 178.86 L299.4 178.13 L300.4 177.41 L301.4 176.68 L302.4 175.96 L303.4 175.24 L304.4 174.52 L305.4 173.8 L306.4 173.08 L307.4 172.36 L308.4 171.65 L309.4 170.94 L310.4 170.23 L311.4 169.52 L312.4 168.82 L313.4 168.12 L314.4 167.43 L315.4 166.74 L316.4 166.05 L317.4 165.37 L318.4 164.7 L319.4 164.02 L320.4 163.36 L321.4 162.7 L322.4 162.05 L323.4 161.4 L324.4 160.76 L325.4 160.12 L326.4 159.5 L327.4 158.88 L328.4 158.26 L329.4 157.66 L330.4 157.06 L331.4 156.48 L332.4 155.89 L333.4 155.32 L334.4 154.76 L335.4 154.2 L336.4 153.65 L337.4 153.11 L338.4 152.58 L339.4 152.05 L340.4 151.54 L341.4 151.03 L342.4 150.53 L343.4 150.04 L344.4 149.55 L345.4 149.08 L346.4 148.61 L347.4 148.15 L348.4 147.7 L349.4 147.26 L350.4 146.83 L351.4 146.4 L352.4 145.98 L353.4 145.58 L354.4 145.18 L355.4 144.79 L356.4 144.4 L357.4 144.03 L358.4 143.67 L359.4 143.31 L360.4 142.96 L361.4 142.62 L362.4 142.29 L363.4 141.97 L364.4 141.66 L365.4 141.36 L366.4 141.06 L367.4 140.78 L368.4 140.5 L369.4 140.23 L370.4 139.97 L371.4 139.73 L372.4 139.48 L373.4 139.25 L374.4 139.03 L375.4 138.82 L376.4 138.61 L377.4 138.42 L378.4 138.24 L379.4 138.06 L380.4 137.89 L381.4 137.74 L382.4 137.59 L383.4 137.45 L384.4 137.32 L385.4 137.2 L386.4 137.09 L387.4 136.99 L388.4 136.9 L389.4 136.82 L390.4 136.75 L391.4 136.68 L392.4 136.63 L393.4 136.59 L394.4 136.56 L395.4 136.53 L396.4 136.52 L397.4 136.52 L398.4 136.52 L399.4 136.54 L400.4 136.57 L401.4 136.6 L402.4 136.65 L403.4 136.7 L404.4 136.77 L405.4 136.85 L406.4 136.93 L407.4 137.03 L408.4 137.14 L409.4 137.25 L410.4 137.38 L411.4 137.52 L412 137.6" stroke="#008080"/>
<path d="M248.4 209.5 L249.4 209.15 L250.4 208.77 L251.4 208.37 L252.4 207.94 L253.4 207.48 L254.4 207 L255.4 206.49 L256.4 205.96 L257.4 205.4 L258.4 204.83 L259.4 204.23 L260.4 203.61 L261.4 202.97 L262.4 202.3 L263.4 201.62 L264.4 200.92 L265.4 200.2 L266.4 199.46 L267.4 198.7 L268.4 197.93 L269.4 197.14 L270.4 196.33 L271.4 195.51 L272.4 194.68 L273.4 193.83 L274.4 192.97 L275.4 192.09 L276.4 191.2 L277.4 190.3 L278.4 189.39 L279.4 188.47 L280.4 187.54 L281.4 186.6 L282.4 185.65 L283.4 184.69 L284.4 183.72 L285.4 182.75 L286.4 181.77 L287.4 180.79 L288.4 179.8 L289.4 178.8 L290.4 177.8 L291.4 176.8 L292.4 175.8 L293.4 174.8 L294.4 173.79 L295.4 172.79 L296.4 171.79 L297.4 170.79 L298.4 169.8 L299.4 168.81 L300.4 167.83 L301.4 166.86 L302.4 165.89 L303.4 164.93 L304.4 163.98 L305.4 163.04 L306.4 162.11 L307.4 161.2 L308.4 160.29 L309.4 159.4 L310.4 158.52 L311.4 157.66 L312.4 156.82 L313.4 155.99 L314.4 155.17 L315.4 154.38 L316.4 153.61 L317.4 152.85 L318.4 152.12 L319.4 151.41 L320.4 150.72 L321.4 150.05 L322.4 149.41 L323.4 148.79 L324.4 148.18 L325.4 147.61 L326.4 147.05 L327.4 146.51 L328.4 145.99 L329.4 145.49 L330.4 145 L331.4 144.54 L332.4 144.09 L333.4 143.66 L334.4 143.25 L335.4 142.85 L336.4 142.47 L337.4 142.11 L338.4 141.76 L339.4 141.42 L340.4 141.1 L341.4 140.79 L342.4 140.49 L343.4 140.21 L344.4 139.94 L345.4 139.68 L346.4 139.43 L347.4 139.19 L348.4 138.96 L349.4 138.74 L350.4 138.53 L351.4 138.33 L352.4 138.14 L353.4 137.95 L354.4 137.77 L355.4 137.6 L356.4 137.44 L357.4 137.28 L358.4 137.12 L359.4 136.98 L360.4 136.83 L361.4 136.69 L362.4 136.55 L363.4 136.42 L364.4 136.3 L365.4 136.17 L366.4 136.05 L367.4 135.94 L368.4 135.83 L369.4 135.72 L370.4 135.62 L371.4 135.52 L372.4 135.42 L373.4 135.33 L374.4 135.25 L375.4 135.17 L376.4 135.09 L377.4 135.02 L378.4 134.95 L379.4 134.88 L380.4 134.82 L381.4 134.77 L382.4 134.72 L383.4 134.67 L384.4 134.63 L385.4 134.59 L386.4 134.55 L387.4 134.52 L388.4 134.5 L389.4 134.47 L390.4 134.46 L391.4 134.44 L392.4 134.44 L393.4 134.43 L394.4 134.43 L395.4 134.44 L396.4 134.45 L397.4 134.46 L398.4 134.48 L399.4 134.5 L400.4 134.52 L401.4 134.56 L402.4 134.59 L403.4 134.63 L404.4 134.67 L405.4 134.72 L406.4 134.78 L407.4 134.83 L408.4 134.89 L409.4 134.96 L410.4 135.03 L411.4 135.11 L412.4 135.18 L413.4 135.27 L414.4 135.36 L415.4 135.45 L416.4 135.55 L417.4 135.65 L418.4 135.76 L419.4 135.87 L420.4 135.98 L421.4 136.1 L422.4 136.23 L423.4 136.35 L424.4 136.49 L425.4 136.63 L426.4 136.77 L427.4 136.91 L428.4 137.07 L429.4 137.22 L430.4 137.38 L431.1 137.5" stroke="#EC008C"/>
<path d="M248.4 209.5 L249.4 208.55 L250.4 207.57 L251.4 206.55 L252.4 205.49 L253.4 204.4 L254.4 203.27 L255.4 202.12 L256.4 200.93 L257.4 199.71 L258.4 198.46 L259.4 197.18 L260.4 195.88 L261.4 194.55 L262.4 193.2 L263.4 191.82 L264.4 190.42 L265.4 189 L266.4 187.57 L267.4 186.11 L268.4 184.64 L269.4 183.15 L270.4 181.64 L271.4 180.12 L272.4 178.59 L273.4 177.05 L274.4 175.5 L275.4 173.94 L276.4 172.37 L277.4 170.79 L278.4 169.21 L279.4 167.62 L280.4 166.04 L281.4 164.45 L282.4 162.87 L283.4 161.3 L284.4 159.76 L285.4 158.24 L286.4 156.77 L287.4 155.34 L288.4 153.96 L289.4 152.64 L290.4 151.38 L291.4 150.17 L292.4 149.02 L293.4 147.93 L294.4 146.88 L295.4 145.88 L296.4 144.94 L297.4 144.03 L298.4 143.17 L299.4 142.36 L300.4 141.58 L301.4 140.84 L302.4 140.14 L303.4 139.48 L304.4 138.85 L305.4 138.25 L306.4 137.68 L307.4 137.14 L308.4 136.63 L309.4 136.14 L310.4 135.67 L311.4 135.23 L312.4 134.81 L313.4 134.4 L314.4 134.01 L315.4 133.64 L316.4 133.27 L317.4 132.92 L318.4 132.58 L319.4 132.25 L320.4 131.93 L321.4 131.62 L322.4 131.32 L323.4 131.03 L324.4 130.75 L325.4 130.48 L326.4 130.22 L327.4 129.97 L328.4 129.73 L329.4 129.49 L330.4 129.27 L331.4 129.05 L332.4 128.84 L333.4 128.64 L334.4 128.45 L335.4 128.27 L336.4 128.1 L337.4 127.93 L338.4 127.77 L339.4 127.62 L340.4 127.48 L341.4 127.34 L342.4 127.21 L343.4 127.09 L344.4 126.98 L345.4 126.87 L346.4 126.77 L347.4 126.68 L348.4 126.59 L349.4 126.51 L350.4 126.44 L351.4 126.37 L352.4 126.31 L353.4 126.25 L354.4 126.2 L355.4 126.16 L356.4 126.12 L357.4 126.08 L358.4 126.06 L359.4 126.03 L360.4 126.01 L361.4 126 L362.4 125.99 L363.4 125.99 L364.4 125.99 L365.4 125.99 L366.4 126 L367.4 126.01 L368.4 126.03 L369.4 126.05 L370.4 126.08 L371.4 126.1 L372.4 126.14 L373.4 126.17 L374.4 126.21 L375.4 126.25 L376.4 126.29 L377.4 126.34 L378.4 126.39 L379.4 126.44 L380.4 126.5 L381.4 126.55 L382.4 126.61 L383.4 126.67 L384.4 126.74 L385.4 126.8 L386.4 126.87 L387.4 126.93 L388.4 127 L389.4 127.07 L390.4 127.14 L391.4 127.22 L392.4 127.29 L393.4 127.36 L394.4 127.44 L395.4 127.51 L396.4 127.59 L397.4 127.66 L398.4 127.74 L399.4 127.81 L400.4 127.89 L401.4 127.96 L402.4 128.03 L403.4 128.11 L404.4 128.18 L405.4 128.25 L406.4 128.32 L407.4 128.39 L408.4 128.46 L409.4 128.53 L410.4 128.59 L411.4 128.66 L412.4 128.72 L413.4 128.78 L414.4 128.84 L415.4 128.9 L416.4 128.95 L417.4 129 L418.4 129.05 L419.4 129.1 L420.4 129.14 L421.4 129.18 L422.4 129.22 L423.4 129.25 L424.4 129.28 L425.4 129.31 L426.4 129.33 L427.4 129.35 L428.4 129.37 L429.4 129.38 L430.4 129.39 L431.4 129.39 L432.4 129.39 L433.4 129.39 L434.4 129.38 L435.4 129.37 L436.4 129.35 L437.4 129.32 L438.4 129.29 L439.4 129.26 L440.4 129.22 L440.9 129.2" stroke="#000000"/>
<path d="M248.4 209.5 L249.4 209.33 L250.4 209.16 L251.4 208.98 L252.4 208.79 L253.4 208.59 L254.4 208.39 L255.4 208.18 L256.4 207.97 L257.4 207.75 L258.4 207.52 L259.4 207.29 L260.4 207.05 L261.4 206.8 L262.4 206.55 L263.4 206.29 L264.4 206.03 L265.4 205.76 L266.4 205.48 L267.4 205.2 L268.4 204.91 L269.4 204.62 L270.4 204.32 L271.4 204.02 L272.4 203.71 L273.4 203.39 L274.4 203.07 L275.4 202.75 L276.4 202.42 L277.4 202.08 L278.4 201.74 L279.4 201.4 L280.4 201.05 L281.4 200.69 L282.4 200.34 L283.4 199.97 L284.4 199.6 L285.4 199.23 L286.4 198.86 L287.4 198.47 L288.4 198.09 L289.4 197.7 L290.4 197.31 L291.4 196.91 L292.4 196.51 L293.4 196.11 L294.4 195.7 L295.4 195.28 L296.4 194.87 L297.4 194.45 L298.4 194.03 L299.4 193.6 L300.4 193.17 L301.4 192.74 L302.4 192.3 L303.4 191.86 L304.4 191.42 L305.4 190.98 L306.4 190.53 L307.4 190.08 L308.4 189.63 L309.4 189.17 L310.4 188.71 L311.4 188.25 L312.4 187.79 L313.4 187.32 L314.4 186.86 L315.4 186.39 L316.4 185.91 L317.4 185.44 L318.4 184.96 L319.4 184.49 L320.4 184.01 L321.4 183.53 L322.4 183.04 L323.4 182.56 L324.4 182.07 L325.4 181.58 L326.4 181.1 L327.4 180.6 L328.4 180.11 L329.4 179.62 L330.4 179.13 L331.4 178.63 L332.4 178.14 L333.4 177.64 L334.4 177.14 L335.4 176.64 L336.4 176.15 L337.4 175.65 L338.4 175.15 L339.4 174.65 L340.4 174.15 L341.4 173.65 L342.4 173.15 L343.4 172.64 L344.4 172.14 L345.4 171.64 L346.4 171.14 L347.4 170.64 L348.4 170.14 L349.4 169.64 L350.4 169.14 L351.4 168.64 L352.4 168.15 L353.4 167.65 L354.4 167.15 L355.4 166.66 L356.4 166.16 L357.4 165.67 L358.4 165.18 L359.4 164.69 L360.4 164.2 L361.4 163.71 L362.4 163.22 L363.4 162.74 L364.4 162.25 L365.4 161.77 L366.4 161.29 L367.4 160.81 L368.4 160.34 L369.4 159.86 L370.4 159.39 L371.4 158.92 L372.4 158.45 L373.4 157.99 L374.4 157.52 L375.4 157.06 L376.4 156.6 L377.4 156.15 L378.4 155.7 L379.4 155.25 L380.4 154.8 L381.4 154.36 L382.4 153.91 L383.4 153.48 L384.4 153.04 L385.4 152.61 L386.4 152.18 L387.4 151.76 L388.4 151.34 L389.4 150.92 L390.4 150.51 L391.4 150.1 L392.4 149.69 L393.4 149.29 L394.4 148.89 L395.4 148.5 L396.4 148.11 L397.4 147.73 L398.4 147.35 L399.4 146.97 L400.4 146.6 L401.4 146.23 L402.4 145.87 L403.4 145.51 L404.4 145.16 L405.4 144.81 L406.4 144.47 L407.4 144.13 L408.4 143.8 L409.4 143.47 L410.4 143.15 L411.4 142.83 L412.4 142.52 L413.4 142.22 L414.4 141.92 L415.4 141.62 L416.4 141.33 L417.4 141.05 L418.4 140.78 L419.4 140.51 L420.2 140.29" stroke="#FF0000" stroke-dasharray="3.9 2.65"/>
<path d="M248.4 209.5 L249.4 209.13 L250.4 208.73 L251.4 208.33 L252.4 207.9 L253.4 207.46 L254.4 207.01 L255.4 206.54 L256.4 206.06 L257.4 205.56 L258.4 205.05 L259.4 204.53 L260.4 203.99 L261.4 203.45 L262.4 202.89 L263.4 202.31 L264.4 201.73 L265.4 201.14 L266.4 200.53 L267.4 199.91 L268.4 199.29 L269.4 198.65 L270.4 198.01 L271.4 197.35 L272.4 196.69 L273.4 196.02 L274.4 195.34 L275.4 194.65 L276.4 193.96 L277.4 193.26 L278.4 192.55 L279.4 191.83 L280.4 191.11 L281.4 190.39 L282.4 189.66 L283.4 188.92 L284.4 188.18 L285.4 187.43 L286.4 186.68 L287.4 185.93 L288.4 185.17 L289.4 184.41 L290.4 183.65 L291.4 182.89 L292.4 182.12 L293.4 181.35 L294.4 180.58 L295.4 179.81 L296.4 179.04 L297.4 178.27 L298.4 177.5 L299.4 176.73 L300.4 175.96 L301.4 175.19 L302.4 174.42 L303.4 173.66 L304.4 172.89 L305.4 172.13 L306.4 171.38 L307.4 170.62 L308.4 169.87 L309.4 169.12 L310.4 168.38 L311.4 167.64 L312.4 166.9 L313.4 166.17 L314.4 165.45 L315.4 164.73 L316.4 164.02 L317.4 163.31 L318.4 162.61 L319.4 161.92 L320.4 161.24 L321.4 160.56 L322.4 159.9 L323.4 159.24 L324.4 158.59 L325.4 157.94 L326.4 157.31 L327.4 156.69 L328.4 156.08 L329.4 155.48 L330.4 154.89 L331.4 154.31 L332.4 153.74 L333.4 153.18 L334.4 152.63 L335.4 152.09 L336.4 151.56 L337.4 151.04 L338.4 150.53 L339.4 150.02 L340.4 149.53 L341.4 149.05 L342.4 148.58 L343.4 148.11 L344.4 147.66 L345.4 147.21 L346.4 146.78 L347.4 146.35 L348.4 145.93 L349.4 145.52 L350.4 145.12 L351.4 144.73 L352.4 144.34 L353.4 143.97 L354.4 143.6 L355.4 143.24 L356.4 142.89 L357.4 142.55 L358.4 142.21 L359.4 141.88 L360.4 141.56 L361.4 141.25 L362.4 140.95 L363.4 140.65 L364.4 140.36 L365.4 140.08 L366.4 139.8 L367.4 139.54 L368.4 139.27 L369.4 139.02 L370.4 138.77 L371.4 138.53 L372.4 138.3 L373.4 138.07 L374.4 137.85 L375.4 137.64 L376.4 137.43 L377.4 137.23 L378.4 137.04 L379.4 136.85 L380.4 136.67 L381.4 136.49 L382.4 136.32 L383.4 136.15 L384.4 135.99 L385.4 135.84 L386.4 135.69 L387.4 135.55 L388.4 135.41 L389.4 135.28 L390.4 135.15 L391.4 135.03 L392.4 134.91 L393.4 134.8 L394.4 134.69 L395.4 134.59 L396.4 134.49 L397.4 134.39 L398.4 134.3 L399.4 134.22 L400.4 134.14 L401.4 134.06 L402.4 133.99 L403.4 133.92 L404.4 133.86 L405.4 133.8 L406.4 133.74 L407.4 133.68 L408.4 133.63 L409.4 133.59 L410.4 133.55 L411.4 133.51 L412.4 133.47 L413.4 133.44 L414.4 133.41 L415.4 133.38 L416.4 133.35 L417.4 133.33 L418.4 133.31 L419.4 133.3 L420.4 133.28 L421.4 133.27 L422.4 133.26 L423.4 133.25 L424.4 133.25 L425.4 133.25 L426.4 133.25 L427.4 133.25 L428.4 133.25 L429.4 133.26 L430.4 133.26 L431.4 133.27 L432.4 133.28 L433.4 133.29 L434.4 133.3 L435.4 133.32 L436.4 133.33 L437.4 133.34 L438.4 133.36 L439.4 133.38 L440.4 133.4 L440.9 133.41" stroke="#00FF00" stroke-dasharray="3.9 2.65"/>
<path d="M248.4 209.5 L249.4 207.55 L250.4 205.76 L251.4 204.12 L252.4 202.62 L253.4 201.25 L254.4 200 L255.4 198.86 L256.4 197.83 L257.4 196.9 L258.4 196.06 L259.4 195.3 L260.4 194.62 L261.4 194 L262.4 193.43 L263.4 192.91 L264.4 192.43 L265.4 191.99 L266.4 191.56 L267.4 191.15 L268.4 190.75 L269.4 190.34 L270.4 189.92 L271.4 189.48 L272.4 189.02 L273.4 188.52 L274.4 187.98 L275.4 187.38 L276.4 186.72 L277.4 186 L278.4 185.19 L279.4 184.3 L280.4 183.32 L281.4 182.24 L282.4 181.1 L283.4 179.93 L284.4 178.75 L285.4 177.57 L286.4 176.4 L287.4 175.21 L288.4 174 L289.4 172.77 L290.4 171.51 L291.4 170.24 L292.4 168.96 L293.4 167.68 L294.4 166.41 L295.4 165.16 L296.4 163.92 L297.4 162.72 L298.4 161.55 L299.4 160.4 L300.4 159.29 L301.4 158.2 L302.4 157.14 L303.4 156.11 L304.4 155.11 L305.4 154.13 L306.4 153.18 L307.4 152.25 L308.4 151.34 L309.4 150.46 L310.4 149.61 L311.4 148.77 L312.4 147.96 L313.4 147.17 L314.4 146.4 L315.4 145.65 L316.4 144.91 L317.4 144.2 L318.4 143.51 L319.4 142.83 L320.4 142.17 L321.4 141.53 L322.4 140.9 L323.4 140.29 L324.4 139.69 L325.4 139.11 L326.4 138.54 L327.4 137.99 L328.4 137.45 L329.4 136.92 L330.4 136.4 L331.4 135.9 L332.4 135.42 L333.4 134.94 L334.4 134.48 L335.4 134.03 L336.4 133.59 L337.4 133.17 L338.4 132.75 L339.4 132.35 L340.4 131.96 L341.4 131.58 L342.4 131.22 L343.4 130.86 L344.4 130.52 L345.4 130.18 L346.4 129.86 L347.4 129.55 L348.4 129.25 L349.4 128.95 L350.4 128.67 L351.4 128.4 L352.4 128.14 L353.4 127.88 L354.4 127.64 L355.4 127.4 L356.4 127.18 L357.4 126.96 L358.4 126.75 L359.4 126.55 L360.4 126.36 L361.4 126.17 L362.4 126 L363.4 125.83 L364.4 125.67 L365.4 125.52 L366.4 125.37 L367.4 125.23 L368.4 125.1 L369.4 124.97 L370.4 124.85 L371.4 124.74 L372.4 124.63 L373.4 124.53 L374.4 124.44 L375.4 124.35 L376.4 124.27 L377.4 124.19 L378.4 124.11 L379.4 124.05 L380.4 123.98 L381.4 123.92 L382.4 123.87 L383.4 123.82 L384.4 123.77 L385.4 123.73 L386.4 123.69 L387.4 123.66 L388.4 123.63 L389.4 123.6 L390.4 123.57 L391.4 123.55 L392.4 123.53 L393.4 123.51 L394.4 123.5 L395.4 123.49 L396.4 123.48 L397.4 123.47 L398.4 123.46 L399.4 123.46 L400.4 123.45 L401.4 123.45 L402.4 123.45 L403.4 123.45 L404.4 123.45 L405.4 123.45 L406.4 123.45 L407.4 123.45 L408.4 123.45 L409.4 123.45 L410.4 123.45 L411.4 123.45 L412.4 123.45 L413.4 123.45 L414.4 123.45 L415.4 123.45 L416.4 123.44 L417.4 123.43 L418.4 123.42 L419.4 123.41 L420.4 123.4 L421.4 123.39 L422.4 123.37 L423.4 123.35 L424.4 123.33 L425.4 123.3 L426.4 123.27 L427.4 123.24 L428.4 123.2 L429.4 123.16 L430.4 123.12 L431.4 123.07 L432.4 123.02 L433.4 122.97 L434.4 122.91 L435.4 122.84 L436.4 122.77 L437.4 122.7 L438.4 122.62 L439.4 122.53 L440.4 122.44 L440.9 122.4" stroke="#008080" stroke-dasharray="3.9 2.65"/>
<path d="M248.4 209.5 L249.4 208.98 L250.4 208.4 L251.4 207.77 L252.4 207.09 L253.4 206.36 L254.4 205.57 L255.4 204.74 L256.4 203.87 L257.4 202.95 L258.4 201.98 L259.4 200.98 L260.4 199.93 L261.4 198.85 L262.4 197.73 L263.4 196.58 L264.4 195.39 L265.4 194.17 L266.4 192.92 L267.4 191.63 L268.4 190.33 L269.4 188.99 L270.4 187.63 L271.4 186.25 L272.4 184.85 L273.4 183.43 L274.4 181.99 L275.4 180.53 L276.4 179.06 L277.4 177.57 L278.4 176.08 L279.4 174.57 L280.4 173.05 L281.4 171.53 L282.4 170 L283.4 168.46 L284.4 166.93 L285.4 165.39 L286.4 163.85 L287.4 162.32 L288.4 160.78 L289.4 159.26 L290.4 157.74 L291.4 156.23 L292.4 154.72 L293.4 153.24 L294.4 151.76 L295.4 150.3 L296.4 148.86 L297.4 147.44 L298.4 146.04 L299.4 144.67 L300.4 143.32 L301.4 142.01 L302.4 140.72 L303.4 139.46 L304.4 138.24 L305.4 137.05 L306.4 135.9 L307.4 134.79 L308.4 133.72 L309.4 132.68 L310.4 131.67 L311.4 130.7 L312.4 129.76 L313.4 128.85 L314.4 127.98 L315.4 127.13 L316.4 126.32 L317.4 125.53 L318.4 124.77 L319.4 124.03 L320.4 123.33 L321.4 122.64 L322.4 121.99 L323.4 121.35 L324.4 120.74 L325.4 120.15 L326.4 119.58 L327.4 119.03 L328.4 118.51 L329.4 118 L330.4 117.5 L331.4 117.03 L332.4 116.57 L333.4 116.12 L334.4 115.69 L335.4 115.28 L336.4 114.87 L337.4 114.48 L338.4 114.1 L339.4 113.73 L340.4 113.37 L341.4 113.01 L342.4 112.67 L343.4 112.33 L344.4 112 L345.4 111.67 L346.4 111.35 L347.4 111.03 L348.4 110.71 L349.4 110.4 L350.4 110.09 L351.4 109.77 L352.4 109.46 L353.4 109.14 L354.4 108.83 L355.4 108.51 L356.4 108.19 L357.4 107.87 L358.4 107.54 L359.4 107.22 L360.4 106.89 L361.4 106.56 L362.4 106.23 L363.4 105.9 L364.4 105.57 L365.4 105.24 L366.4 104.9 L367.4 104.56 L368.4 104.23 L369.4 103.89 L370.4 103.54 L371.4 103.2 L372.4 102.86 L373.4 102.51 L374.4 102.17 L375.4 101.82 L376.4 101.47 L377.4 101.12 L378.4 100.77 L379.4 100.42 L380.4 100.07 L381.4 99.71 L382.4 99.36 L383.4 99 L384.4 98.65 L385.4 98.29 L386.4 97.93 L387.4 97.57 L388.4 97.21 L389.4 96.85 L390.4 96.49 L391.4 96.12 L392.4 95.76 L393.4 95.39 L394.4 95.03 L395.4 94.66 L396.4 94.3 L397.4 93.93 L398.4 93.56 L399.4 93.19 L400.4 92.82 L401.4 92.45 L402.4 92.08 L403.4 91.71 L404.4 91.34 L405.4 90.96 L406.4 90.59 L407.4 90.22 L408.4 89.84 L409.4 89.47 L410.4 89.1 L411.4 88.72 L412.4 88.35 L413.4 87.97 L414.4 87.6 L415.4 87.22 L416.4 86.84 L417.4 86.47 L418.4 86.09 L419.4 85.71 L420.4 85.34 L421.4 84.96 L422.4 84.58 L423.4 84.2 L424.4 83.83 L425 83.6" stroke="#EC008C" stroke-dasharray="3.9 2.65"/>
<path d="M248.4 209.5 L248.91 208.65 L249.41 207.79 L249.91 206.94 L250.41 206.08 L250.92 205.23 L251.42 204.37 L251.93 203.52 L252.44 202.66 L252.95 201.81 L253.46 200.95 L253.97 200.1 L254.49 199.24 L255 198.39 L255.52 197.53 L256.03 196.68 L256.55 195.83 L257.06 194.97 L257.58 194.12 L258.09 193.26 L258.61 192.41 L259.12 191.55 L259.63 190.7 L260.14 189.84 L260.65 188.99 L261.16 188.13 L261.66 187.28 L262.17 186.42 L262.67 185.57 L263.17 184.71 L263.67 183.86 L264.16 183.01 L264.65 182.15 L265.14 181.3 L265.63 180.44 L266.11 179.59 L266.59 178.73 L267.06 177.88 L267.53 177.02 L268 176.17 L268.47 175.31 L268.93 174.46 L269.38 173.6 L269.83 172.75 L270.28 171.89 L270.72 171.04 L271.16 170.18 L271.59 169.33 L272.02 168.48 L272.44 167.62 L272.86 166.77 L273.28 165.91 L273.68 165.06 L274.09 164.2 L274.48 163.35 L274.88 162.49 L275.26 161.64 L275.64 160.78 L276.02 159.93 L276.39 159.07 L276.75 158.22 L277.11 157.36 L277.47 156.51 L277.81 155.66 L278.16 154.8 L278.49 153.95 L278.82 153.09 L279.15 152.24 L279.47 151.38 L279.78 150.53 L280.09 149.67 L280.39 148.82 L280.69 147.96 L280.98 147.11 L281.26 146.25 L281.54 145.4 L281.81 144.54 L282.08 143.69 L282.34 142.84 L282.6 141.98 L282.85 141.13 L283.09 140.27 L283.33 139.42 L283.57 138.56 L283.8 137.71 L284.02 136.85 L284.24 136 L284.46 135.14 L284.66 134.29 L284.87 133.43 L285.07 132.58 L285.26 131.72 L285.45 130.87 L285.64 130.02 L285.82 129.16 L286 128.31 L286.17 127.45 L286.34 126.6 L286.5 125.74 L286.66 124.89 L286.82 124.03 L286.97 123.18 L287.12 122.32 L287.27 121.47 L287.41 120.61 L287.55 119.76 L287.69 118.9 L287.83 118.05 L287.96 117.19 L288.09 116.34 L288.22 115.49 L288.34 114.63 L288.47 113.78 L288.59 112.92 L288.71 112.07 L288.83 111.21 L288.95 110.36 L289.07 109.5 L289.19 108.65 L289.3 107.79 L289.42 106.94 L289.53 106.08 L289.65 105.23 L289.77 104.37 L289.88 103.52 L290 102.67 L290.12 101.81 L290.24 100.96 L290.36 100.1 L290.48 99.25 L290.6 98.39 L290.73 97.54 L290.85 96.68 L290.98 95.83 L291.11 94.97 L291.25 94.12 L291.38 93.26 L291.52 92.41 L291.66 91.55 L291.8 90.7" stroke="#000000" stroke-dasharray="3.9 2.65"/>
</g>
<path d="M248.4 17H441V209.5H248.4Z" stroke="#000" stroke-width="0.78" fill="none"/>
</g>
<g>
<path d="M453.6 209.5v-4.6M453.6 17v4.6M477.68 209.5v-3.1M477.68 17v3.1M501.75 209.5v-4.6M501.75 17v4.6M525.83 209.5v-3.1M525.83 17v3.1M549.9 209.5v-4.6M549.9 17v4.6M573.98 209.5v-3.1M573.98 17v3.1M598.05 209.5v-4.6M598.05 17v4.6M622.12 209.5v-3.1M622.12 17v3.1M646.2 209.5v-4.6M646.2 17v4.6M453.6 209.5h4.6M646.2 209.5h-4.6M453.6 183.83h3.1M646.2 183.83h-3.1M453.6 158.17h4.6M646.2 158.17h-4.6M453.6 132.5h3.1M646.2 132.5h-3.1M453.6 106.83h4.6M646.2 106.83h-4.6M453.6 81.17h3.1M646.2 81.17h-3.1M453.6 55.5h4.6M646.2 55.5h-4.6M453.6 29.83h3.1M646.2 29.83h-3.1" stroke="#7f7f7f" stroke-width="0.45" fill="none"/>
<path d="M617.2 209.5V17" stroke="#0000FF" stroke-width="0.56" stroke-dasharray="1.1 2.54" fill="none"/>
<path d="M631.9 209.5V17" stroke="#FF0000" stroke-width="0.56" stroke-dasharray="1.1 2.54" fill="none"/>
<path d="M497.1 209.5V17" stroke="#000000" stroke-width="0.56" stroke-dasharray="1.1 2.54" fill="none"/>
<g fill="none" stroke-width="1.4" stroke-linejoin="round">
<path d="M453.6 209.3 L646.2 209.3" stroke="#008C00"/>
<path d="M453.6 209.5 L454.6 209.44 L455.6 209.38 L456.6 209.33 L457.6 209.27 L458.6 209.21 L459.6 209.16 L460.6 209.11 L461.6 209.06 L462.6 209.01 L463.6 208.96 L464.6 208.91 L465.6 208.86 L466.6 208.82 L467.6 208.77 L468.6 208.73 L469.6 208.68 L470.6 208.64 L471.6 208.6 L472.6 208.56 L473.6 208.52 L474.6 208.48 L475.6 208.45 L476.6 208.41 L477.6 208.38 L478.6 208.34 L479.6 208.31 L480.6 208.28 L481.6 208.25 L482.6 208.22 L483.6 208.19 L484.6 208.16 L485.6 208.13 L486.6 208.1 L487.6 208.08 L488.6 208.05 L489.6 208.03 L490.6 208.01 L491.6 207.98 L492.6 207.96 L493.6 207.94 L494.6 207.92 L495.6 207.9 L496.6 207.88 L497.6 207.87 L498.6 207.85 L499.6 207.83 L500.6 207.82 L501.6 207.81 L502.6 207.79 L503.6 207.78 L504.6 207.77 L505.6 207.76 L506.6 207.74 L507.6 207.74 L508.6 207.73 L509.6 207.72 L510.6 207.71 L511.6 207.7 L512.6 207.7 L513.6 207.69 L514.6 207.69 L515.6 207.68 L516.6 207.68 L517.6 207.67 L518.6 207.67 L519.6 207.67 L520.6 207.67 L521.6 207.67 L522.6 207.67 L523.6 207.67 L524.6 207.67 L525.6 207.67 L526.6 207.67 L527.6 207.67 L528.6 207.68 L529.6 207.68 L530.6 207.68 L531.6 207.69 L532.6 207.69 L533.6 207.7 L534.6 207.71 L535.6 207.71 L536.6 207.72 L537.6 207.73 L538.6 207.74 L539.6 207.74 L540.6 207.75 L541.6 207.76 L542.6 207.77 L543.6 207.78 L544.6 207.79 L545.6 207.8 L546.6 207.82 L547.6 207.83 L548.6 207.84 L549.6 207.85 L550.6 207.86 L551.6 207.88 L552.6 207.89 L553.6 207.91 L554.6 207.92 L555.6 207.93 L556.6 207.95 L557.6 207.96 L558.6 207.98 L559.6 207.99 L560.6 208.01 L561.6 208.03 L562.6 208.04 L563.6 208.06 L564.6 208.08 L565.6 208.09 L566.6 208.11 L567.6 208.13 L568.6 208.15 L569.6 208.16 L570.6 208.18 L571.6 208.2 L572.6 208.22 L573.6 208.24 L574.6 208.26 L575.6 208.28 L576.6 208.29 L577.6 208.31 L578.6 208.33 L579.6 208.35 L580.6 208.37 L581.6 208.39 L582.6 208.41 L583.6 208.43 L584.6 208.45 L585.6 208.47 L586.6 208.49 L587.6 208.51 L588.6 208.53 L589.6 208.55 L590.6 208.57 L591.6 208.59 L592.6 208.61 L593.6 208.63 L594.6 208.65 L595.6 208.67 L596.6 208.69 L597.6 208.71 L598.6 208.73 L599.6 208.75 L600.6 208.77 L601.6 208.79 L602.6 208.81 L603.6 208.83 L604.6 208.85 L605.6 208.87 L606.6 208.88 L607.6 208.9 L608.6 208.92 L609.6 208.94 L610.6 208.96 L611.6 208.98 L612.6 209 L613.6 209.01 L614.6 209.03 L615.6 209.05 L616.6 209.07 L617.6 209.08 L618.6 209.1 L619.6 209.12 L620.6 209.13 L621.6 209.15 L622.6 209.17 L623.6 209.18 L624.6 209.2 L625.6 209.21 L626.6 209.23 L627.6 209.24 L628.6 209.26 L629.6 209.27 L630.6 209.28 L631.6 209.3 L631.9 209.3" stroke="#FF0000"/>
<path d="M453.6 209.5 L454.6 209.4 L455.6 209.3 L456.6 209.21 L457.6 209.12 L458.6 209.03 L459.6 208.94 L460.6 208.85 L461.6 208.76 L462.6 208.68 L463.6 208.6 L464.6 208.52 L465.6 208.44 L466.6 208.36 L467.6 208.28 L468.6 208.21 L469.6 208.14 L470.6 208.07 L471.6 208 L472.6 207.93 L473.6 207.86 L474.6 207.8 L475.6 207.73 L476.6 207.67 L477.6 207.61 L478.6 207.55 L479.6 207.49 L480.6 207.44 L481.6 207.38 L482.6 207.33 L483.6 207.28 L484.6 207.23 L485.6 207.18 L486.6 207.13 L487.6 207.09 L488.6 207.04 L489.6 207 L490.6 206.95 L491.6 206.91 L492.6 206.87 L493.6 206.84 L494.6 206.8 L495.6 206.76 L496.6 206.73 L497.6 206.69 L498.6 206.66 L499.6 206.63 L500.6 206.6 L501.6 206.57 L502.6 206.54 L503.6 206.52 L504.6 206.49 L505.6 206.47 L506.6 206.44 L507.6 206.42 L508.6 206.4 L509.6 206.38 L510.6 206.36 L511.6 206.34 L512.6 206.33 L513.6 206.31 L514.6 206.29 L515.6 206.28 L516.6 206.27 L517.6 206.26 L518.6 206.24 L519.6 206.23 L520.6 206.22 L521.6 206.22 L522.6 206.21 L523.6 206.2 L524.6 206.19 L525.6 206.19 L526.6 206.18 L527.6 206.18 L528.6 206.18 L529.6 206.18 L530.6 206.17 L531.6 206.17 L532.6 206.17 L533.6 206.18 L534.6 206.18 L535.6 206.18 L536.6 206.18 L537.6 206.19 L538.6 206.19 L539.6 206.19 L540.6 206.2 L541.6 206.21 L542.6 206.21 L543.6 206.22 L544.6 206.23 L545.6 206.24 L546.6 206.25 L547.6 206.25 L548.6 206.26 L549.6 206.27 L550.6 206.29 L551.6 206.3 L552.6 206.31 L553.6 206.32 L554.6 206.33 L555.6 206.35 L556.6 206.36 L557.6 206.37 L558.6 206.39 L559.6 206.4 L560.6 206.42 L561.6 206.43 L562.6 206.45 L563.6 206.47 L564.6 206.48 L565.6 206.5 L566.6 206.52 L567.6 206.53 L568.6 206.55 L569.6 206.57 L570.6 206.59 L571.6 206.6 L572.6 206.62 L573.6 206.64 L574.6 206.66 L575.6 206.68 L576.6 206.7 L577.6 206.72 L578.6 206.74 L579.6 206.76 L580.6 206.78 L581.6 206.8 L582.6 206.82 L583.6 206.84 L584.6 206.86 L585.6 206.88 L586.6 206.9 L587.6 206.92 L588.6 206.94 L589.6 206.96 L590.6 206.98 L591.6 207 L592.6 207.02 L593.6 207.04 L594.6 207.06 L595.6 207.08 L596.6 207.1 L597.6 207.12 L598.6 207.14 L599.6 207.16 L600.6 207.17 L601.6 207.19 L602.6 207.21 L603.6 207.23 L604.6 207.25 L605.6 207.27 L606.6 207.29 L607.6 207.3 L608.6 207.32 L609.6 207.34 L610.6 207.36 L611.6 207.37 L612.6 207.39 L613.6 207.41 L614.6 207.42 L615.6 207.44 L616.6 207.45 L617.6 207.47 L618.6 207.48 L619.6 207.5 L620.6 207.51 L621.6 207.53 L622.6 207.54 L623.6 207.55 L624.6 207.56 L625.6 207.58 L626.6 207.59 L627.6 207.6 L628.6 207.61 L629.6 207.62 L630.6 207.63 L631.6 207.64 L632.6 207.65 L633.6 207.65 L634.6 207.66 L635.6 207.67 L636.6 207.67 L637.6 207.68 L638.6 207.68 L639.6 207.69 L640.6 207.69 L641.6 207.69 L642.6 207.7 L643.6 207.7 L644.6 207.7 L645.6 207.7 L646.2 207.7" stroke="#00FF00"/>
<path d="M453.6 209.5 L454.6 209.37 L455.6 209.24 L456.6 209.11 L457.6 208.99 L458.6 208.86 L459.6 208.74 L460.6 208.62 L461.6 208.51 L462.6 208.39 L463.6 208.28 L464.6 208.17 L465.6 208.06 L466.6 207.95 L467.6 207.85 L468.6 207.75 L469.6 207.65 L470.6 207.55 L471.6 207.45 L472.6 207.36 L473.6 207.27 L474.6 207.17 L475.6 207.09 L476.6 207 L477.6 206.91 L478.6 206.83 L479.6 206.75 L480.6 206.67 L481.6 206.59 L482.6 206.52 L483.6 206.44 L484.6 206.37 L485.6 206.3 L486.6 206.23 L487.6 206.16 L488.6 206.1 L489.6 206.03 L490.6 205.97 L491.6 205.91 L492.6 205.85 L493.6 205.79 L494.6 205.74 L495.6 205.68 L496.6 205.63 L497.6 205.58 L498.6 205.53 L499.6 205.48 L500.6 205.43 L501.6 205.39 L502.6 205.34 L503.6 205.3 L504.6 205.26 L505.6 205.22 L506.6 205.18 L507.6 205.14 L508.6 205.1 L509.6 205.07 L510.6 205.04 L511.6 205 L512.6 204.97 L513.6 204.94 L514.6 204.92 L515.6 204.89 L516.6 204.86 L517.6 204.84 L518.6 204.81 L519.6 204.79 L520.6 204.77 L521.6 204.75 L522.6 204.73 L523.6 204.71 L524.6 204.69 L525.6 204.68 L526.6 204.66 L527.6 204.65 L528.6 204.64 L529.6 204.62 L530.6 204.61 L531.6 204.6 L532.6 204.59 L533.6 204.59 L534.6 204.58 L535.6 204.57 L536.6 204.57 L537.6 204.56 L538.6 204.56 L539.6 204.55 L540.6 204.55 L541.6 204.55 L542.6 204.55 L543.6 204.55 L544.6 204.55 L545.6 204.55 L546.6 204.55 L547.6 204.55 L548.6 204.56 L549.6 204.56 L550.6 204.57 L551.6 204.57 L552.6 204.58 L553.6 204.58 L554.6 204.59 L555.6 204.6 L556.6 204.61 L557.6 204.61 L558.6 204.62 L559.6 204.63 L560.6 204.64 L561.6 204.66 L562.6 204.67 L563.6 204.68 L564.6 204.69 L565.6 204.7 L566.6 204.72 L567.6 204.73 L568.6 204.75 L569.6 204.76 L570.6 204.78 L571.6 204.79 L572.6 204.81 L573.6 204.83 L574.6 204.84 L575.6 204.86 L576.6 204.88 L577.6 204.9 L578.6 204.92 L579.6 204.94 L580.6 204.96 L581.6 204.98 L582.6 205 L583.6 205.02 L584.6 205.04 L585.6 205.06 L586.6 205.08 L587.6 205.1 L588.6 205.13 L589.6 205.15 L590.6 205.17 L591.6 205.2 L592.6 205.22 L593.6 205.24 L594.6 205.27 L595.6 205.29 L596.6 205.31 L597.6 205.34 L598.6 205.36 L599.6 205.39 L600.6 205.41 L601.6 205.44 L602.6 205.47 L603.6 205.49 L604.6 205.52 L605.6 205.54 L606.6 205.57 L607.6 205.59 L608.6 205.62 L609.6 205.65 L610.6 205.67 L611.6 205.7 L612.6 205.73 L613.6 205.75 L614.6 205.78 L615.6 205.81 L616.6 205.83 L617.6 205.86 L618.6 205.89 L619.6 205.91 L620.6 205.94 L621.6 205.97 L622.6 205.99 L623.6 206.02 L624.6 206.05 L625.6 206.08 L626.6 206.1 L627.6 206.13 L628.6 206.15 L629.6 206.18 L630.6 206.21 L631.6 206.23 L632.6 206.26 L633.6 206.29 L634.6 206.31 L635.6 206.34 L636.6 206.36 L637.6 206.39 L638.6 206.41 L639.6 206.44 L640.6 206.46 L641.6 206.49 L642.6 206.51 L643.6 206.54 L644.6 206.56 L645.6 206.58 L646.2 206.6" stroke="#008080"/>
<path d="M453.6 209.5 L454.6 209.33 L455.6 209.17 L456.6 209.01 L457.6 208.85 L458.6 208.69 L459.6 208.54 L460.6 208.39 L461.6 208.24 L462.6 208.09 L463.6 207.95 L464.6 207.8 L465.6 207.66 L466.6 207.53 L467.6 207.39 L468.6 207.26 L469.6 207.13 L470.6 207 L471.6 206.87 L472.6 206.75 L473.6 206.63 L474.6 206.51 L475.6 206.39 L476.6 206.28 L477.6 206.17 L478.6 206.06 L479.6 205.95 L480.6 205.84 L481.6 205.74 L482.6 205.63 L483.6 205.53 L484.6 205.44 L485.6 205.34 L486.6 205.25 L487.6 205.15 L488.6 205.06 L489.6 204.98 L490.6 204.89 L491.6 204.81 L492.6 204.72 L493.6 204.64 L494.6 204.57 L495.6 204.49 L496.6 204.41 L497.6 204.34 L498.6 204.27 L499.6 204.2 L500.6 204.13 L501.6 204.07 L502.6 204 L503.6 203.94 L504.6 203.88 L505.6 203.82 L506.6 203.77 L507.6 203.71 L508.6 203.66 L509.6 203.61 L510.6 203.56 L511.6 203.51 L512.6 203.46 L513.6 203.42 L514.6 203.37 L515.6 203.33 L516.6 203.29 L517.6 203.25 L518.6 203.22 L519.6 203.18 L520.6 203.15 L521.6 203.11 L522.6 203.08 L523.6 203.05 L524.6 203.02 L525.6 203 L526.6 202.97 L527.6 202.95 L528.6 202.92 L529.6 202.9 L530.6 202.88 L531.6 202.86 L532.6 202.85 L533.6 202.83 L534.6 202.81 L535.6 202.8 L536.6 202.79 L537.6 202.78 L538.6 202.77 L539.6 202.76 L540.6 202.75 L541.6 202.75 L542.6 202.74 L543.6 202.74 L544.6 202.73 L545.6 202.73 L546.6 202.73 L547.6 202.73 L548.6 202.73 L549.6 202.74 L550.6 202.74 L551.6 202.74 L552.6 202.75 L553.6 202.76 L554.6 202.76 L555.6 202.77 L556.6 202.78 L557.6 202.79 L558.6 202.8 L559.6 202.82 L560.6 202.83 L561.6 202.84 L562.6 202.86 L563.6 202.88 L564.6 202.89 L565.6 202.91 L566.6 202.93 L567.6 202.95 L568.6 202.97 L569.6 202.99 L570.6 203.01 L571.6 203.03 L572.6 203.05 L573.6 203.08 L574.6 203.1 L575.6 203.13 L576.6 203.15 L577.6 203.18 L578.6 203.2 L579.6 203.23 L580.6 203.26 L581.6 203.29 L582.6 203.32 L583.6 203.34 L584.6 203.37 L585.6 203.41 L586.6 203.44 L587.6 203.47 L588.6 203.5 L589.6 203.53 L590.6 203.56 L591.6 203.6 L592.6 203.63 L593.6 203.67 L594.6 203.7 L595.6 203.73 L596.6 203.77 L597.6 203.81 L598.6 203.84 L599.6 203.88 L600.6 203.91 L601.6 203.95 L602.6 203.99 L603.6 204.02 L604.6 204.06 L605.6 204.1 L606.6 204.14 L607.6 204.17 L608.6 204.21 L609.6 204.25 L610.6 204.29 L611.6 204.33 L612.6 204.36 L613.6 204.4 L614.6 204.44 L615.6 204.48 L616.6 204.52 L617.6 204.56 L618.6 204.59 L619.6 204.63 L620.6 204.67 L621.6 204.71 L622.6 204.75 L623.6 204.79 L624.6 204.82 L625.6 204.86 L626.6 204.9 L627.6 204.94 L628.6 204.98 L629.6 205.01 L630.6 205.05 L631.6 205.09 L632.6 205.13 L633.6 205.16 L634.6 205.2 L635.6 205.23 L636.6 205.27 L637.6 205.31 L638.6 205.34 L639.6 205.38 L640.6 205.41 L641.6 205.45 L642.6 205.48 L643.6 205.51 L644.6 205.55 L645.6 205.58 L646.2 205.6" stroke="#EC008C"/>
<path d="M453.6 209.5 L454.6 209.17 L455.6 208.84 L456.6 208.52 L457.6 208.2 L458.6 207.89 L459.6 207.59 L460.6 207.29 L461.6 207 L462.6 206.71 L463.6 206.43 L464.6 206.15 L465.6 205.88 L466.6 205.61 L467.6 205.35 L468.6 205.1 L469.6 204.85 L470.6 204.6 L471.6 204.36 L472.6 204.13 L473.6 203.89 L474.6 203.67 L475.6 203.45 L476.6 203.23 L477.6 203.02 L478.6 202.81 L479.6 202.61 L480.6 202.41 L481.6 202.22 L482.6 202.03 L483.6 201.84 L484.6 201.66 L485.6 201.49 L486.6 201.31 L487.6 201.15 L488.6 200.98 L489.6 200.82 L490.6 200.67 L491.6 200.51 L492.6 200.36 L493.6 200.22 L494.6 200.08 L495.6 199.94 L496.6 199.81 L497.6 199.68 L498.6 199.55 L499.6 199.43 L500.6 199.31 L501.6 199.19 L502.6 199.08 L503.6 198.97 L504.6 198.87 L505.6 198.76 L506.6 198.66 L507.6 198.57 L508.6 198.47 L509.6 198.38 L510.6 198.29 L511.6 198.21 L512.6 198.12 L513.6 198.05 L514.6 197.97 L515.6 197.89 L516.6 197.82 L517.6 197.75 L518.6 197.69 L519.6 197.62 L520.6 197.56 L521.6 197.5 L522.6 197.44 L523.6 197.38 L524.6 197.33 L525.6 197.28 L526.6 197.23 L527.6 197.18 L528.6 197.14 L529.6 197.09 L530.6 197.05 L531.6 197.01 L532.6 196.97 L533.6 196.94 L534.6 196.9 L535.6 196.87 L536.6 196.84 L537.6 196.81 L538.6 196.78 L539.6 196.75 L540.6 196.73 L541.6 196.71 L542.6 196.68 L543.6 196.66 L544.6 196.65 L545.6 196.63 L546.6 196.61 L547.6 196.6 L548.6 196.59 L549.6 196.57 L550.6 196.56 L551.6 196.55 L552.6 196.55 L553.6 196.54 L554.6 196.54 L555.6 196.53 L556.6 196.53 L557.6 196.53 L558.6 196.53 L559.6 196.53 L560.6 196.53 L561.6 196.54 L562.6 196.54 L563.6 196.55 L564.6 196.55 L565.6 196.56 L566.6 196.57 L567.6 196.58 L568.6 196.59 L569.6 196.6 L570.6 196.62 L571.6 196.63 L572.6 196.64 L573.6 196.66 L574.6 196.68 L575.6 196.69 L576.6 196.71 L577.6 196.73 L578.6 196.75 L579.6 196.77 L580.6 196.79 L581.6 196.82 L582.6 196.84 L583.6 196.86 L584.6 196.89 L585.6 196.91 L586.6 196.94 L587.6 196.96 L588.6 196.99 L589.6 197.02 L590.6 197.04 L591.6 197.07 L592.6 197.1 L593.6 197.13 L594.6 197.16 L595.6 197.19 L596.6 197.22 L597.6 197.25 L598.6 197.28 L599.6 197.31 L600.6 197.35 L601.6 197.38 L602.6 197.41 L603.6 197.44 L604.6 197.48 L605.6 197.51 L606.6 197.54 L607.6 197.58 L608.6 197.61 L609.6 197.64 L610.6 197.68 L611.6 197.71 L612.6 197.75 L613.6 197.78 L614.6 197.82 L615.6 197.85 L616.6 197.88 L617.6 197.92 L618.6 197.95 L619.6 197.99 L620.6 198.02 L621.6 198.06 L622.6 198.09 L623.6 198.12 L624.6 198.16 L625.6 198.19 L626.6 198.22 L627.6 198.26 L628.6 198.29 L629.6 198.32 L630.6 198.35 L631.6 198.38 L632.6 198.42 L633.6 198.45 L634.6 198.48 L635.6 198.51 L636.6 198.54 L637.6 198.57 L638.6 198.6 L639.6 198.62 L640.6 198.65 L641.6 198.68 L642.6 198.71 L643.6 198.73 L644.6 198.76 L645.6 198.78 L646.2 198.8" stroke="#000000"/>
<path d="M453.6 209.5 L454.6 209.4 L455.6 209.3 L456.6 209.21 L457.6 209.12 L458.6 209.03 L459.6 208.94 L460.6 208.85 L461.6 208.76 L462.6 208.68 L463.6 208.6 L464.6 208.52 L465.6 208.44 L466.6 208.36 L467.6 208.28 L468.6 208.21 L469.6 208.14 L470.6 208.07 L471.6 208 L472.6 207.93 L473.6 207.86 L474.6 207.8 L475.6 207.73 L476.6 207.67 L477.6 207.61 L478.6 207.55 L479.6 207.49 L480.6 207.44 L481.6 207.38 L482.6 207.33 L483.6 207.28 L484.6 207.23 L485.6 207.18 L486.6 207.13 L487.6 207.09 L488.6 207.04 L489.6 207 L490.6 206.95 L491.6 206.91 L492.6 206.87 L493.6 206.84 L494.6 206.8 L495.6 206.76 L496.6 206.73 L497.6 206.69 L498.6 206.66 L499.6 206.63 L500.6 206.6 L501.6 206.57 L502.6 206.54 L503.6 206.52 L504.6 206.49 L505.6 206.47 L506.6 206.44 L507.6 206.42 L508.6 206.4 L509.6 206.38 L510.6 206.36 L511.6 206.34 L512.6 206.33 L513.6 206.31 L514.6 206.29 L515.6 206.28 L516.6 206.27 L517.6 206.26 L518.6 206.24 L519.6 206.23 L520.6 206.22 L521.6 206.22 L522.6 206.21 L523.6 206.2 L524.6 206.19 L525.6 206.19 L526.6 206.18 L527.6 206.18 L528.6 206.18 L529.6 206.18 L530.6 206.17 L531.6 206.17 L532.6 206.17 L533.6 206.18 L534.6 206.18 L535.6 206.18 L536.6 206.18 L537.6 206.19 L538.6 206.19 L539.6 206.19 L540.6 206.2 L541.6 206.21 L542.6 206.21 L543.6 206.22 L544.6 206.23 L545.6 206.24 L546.6 206.25 L547.6 206.25 L548.6 206.26 L549.6 206.27 L550.6 206.29 L551.6 206.3 L552.6 206.31 L553.6 206.32 L554.6 206.33 L555.6 206.35 L556.6 206.36 L557.6 206.37 L558.6 206.39 L559.6 206.4 L560.6 206.42 L561.6 206.43 L562.6 206.45 L563.6 206.47 L564.6 206.48 L565.6 206.5 L566.6 206.52 L567.6 206.53 L568.6 206.55 L569.6 206.57 L570.6 206.59 L571.6 206.6 L572.6 206.62 L573.6 206.64 L574.6 206.66 L575.6 206.68 L576.6 206.7 L577.6 206.72 L578.6 206.74 L579.6 206.76 L580.6 206.78 L581.6 206.8 L582.6 206.82 L583.6 206.84 L584.6 206.86 L585.6 206.88 L586.6 206.9 L587.6 206.92 L588.6 206.94 L589.6 206.96 L590.6 206.98 L591.6 207 L592.6 207.02 L593.6 207.04 L594.6 207.06 L595.6 207.08 L596.6 207.1 L597.6 207.12 L598.6 207.14 L599.6 207.16 L600.6 207.17 L601.6 207.19 L602.6 207.21 L603.6 207.23 L604.6 207.25 L605.6 207.27 L606.6 207.29 L607.6 207.3 L608.6 207.32 L609.6 207.34 L610.6 207.36 L611.6 207.37 L612.6 207.39 L613.6 207.41 L614.6 207.42 L615.6 207.44 L616.6 207.45 L617.6 207.47 L618.6 207.48 L619.6 207.5 L620.6 207.51 L621.6 207.53 L622.6 207.54 L623.6 207.55 L624.6 207.56 L625.6 207.58 L626.6 207.59 L627.6 207.6 L628.6 207.61 L629.6 207.62 L630.6 207.63 L631.6 207.64 L632.6 207.65 L633.6 207.65 L634.6 207.66 L635.6 207.67 L636.6 207.67 L637.6 207.68 L638.6 207.68 L639.6 207.69 L640.6 207.69 L641.6 207.69 L642.6 207.7 L643.6 207.7 L644.6 207.7 L645.6 207.7 L646.2 207.7" stroke="#FF0000" stroke-dasharray="3.9 2.65"/>
<path d="M453.6 209.5 L454.6 209.34 L455.6 209.17 L456.6 209.01 L457.6 208.85 L458.6 208.7 L459.6 208.55 L460.6 208.39 L461.6 208.24 L462.6 208.1 L463.6 207.95 L464.6 207.81 L465.6 207.67 L466.6 207.53 L467.6 207.39 L468.6 207.26 L469.6 207.12 L470.6 206.99 L471.6 206.86 L472.6 206.74 L473.6 206.61 L474.6 206.49 L475.6 206.37 L476.6 206.25 L477.6 206.13 L478.6 206.01 L479.6 205.9 L480.6 205.79 L481.6 205.68 L482.6 205.57 L483.6 205.46 L484.6 205.36 L485.6 205.25 L486.6 205.15 L487.6 205.05 L488.6 204.96 L489.6 204.86 L490.6 204.77 L491.6 204.67 L492.6 204.58 L493.6 204.49 L494.6 204.41 L495.6 204.32 L496.6 204.24 L497.6 204.15 L498.6 204.07 L499.6 203.99 L500.6 203.91 L501.6 203.84 L502.6 203.76 L503.6 203.69 L504.6 203.62 L505.6 203.55 L506.6 203.48 L507.6 203.41 L508.6 203.35 L509.6 203.28 L510.6 203.22 L511.6 203.16 L512.6 203.1 L513.6 203.04 L514.6 202.99 L515.6 202.93 L516.6 202.88 L517.6 202.82 L518.6 202.77 L519.6 202.72 L520.6 202.67 L521.6 202.62 L522.6 202.58 L523.6 202.53 L524.6 202.49 L525.6 202.45 L526.6 202.41 L527.6 202.37 L528.6 202.33 L529.6 202.29 L530.6 202.25 L531.6 202.22 L532.6 202.18 L533.6 202.15 L534.6 202.12 L535.6 202.09 L536.6 202.06 L537.6 202.03 L538.6 202 L539.6 201.98 L540.6 201.95 L541.6 201.93 L542.6 201.91 L543.6 201.88 L544.6 201.86 L545.6 201.84 L546.6 201.82 L547.6 201.81 L548.6 201.79 L549.6 201.77 L550.6 201.76 L551.6 201.74 L552.6 201.73 L553.6 201.72 L554.6 201.71 L555.6 201.69 L556.6 201.68 L557.6 201.68 L558.6 201.67 L559.6 201.66 L560.6 201.65 L561.6 201.65 L562.6 201.64 L563.6 201.64 L564.6 201.63 L565.6 201.63 L566.6 201.63 L567.6 201.63 L568.6 201.63 L569.6 201.63 L570.6 201.63 L571.6 201.63 L572.6 201.63 L573.6 201.63 L574.6 201.64 L575.6 201.64 L576.6 201.64 L577.6 201.65 L578.6 201.65 L579.6 201.66 L580.6 201.67 L581.6 201.67 L582.6 201.68 L583.6 201.69 L584.6 201.7 L585.6 201.71 L586.6 201.71 L587.6 201.72 L588.6 201.73 L589.6 201.75 L590.6 201.76 L591.6 201.77 L592.6 201.78 L593.6 201.79 L594.6 201.8 L595.6 201.82 L596.6 201.83 L597.6 201.84 L598.6 201.86 L599.6 201.87 L600.6 201.89 L601.6 201.9 L602.6 201.92 L603.6 201.93 L604.6 201.95 L605.6 201.96 L606.6 201.98 L607.6 201.99 L608.6 202.01 L609.6 202.02 L610.6 202.04 L611.6 202.06 L612.6 202.07 L613.6 202.09 L614.6 202.11 L615.6 202.12 L616.6 202.14 L617.6 202.16 L618.6 202.17 L619.6 202.19 L620.6 202.21 L621.6 202.22 L622.6 202.24 L623.6 202.26 L624.6 202.28 L625.6 202.29 L626.6 202.31 L627.6 202.33 L628.6 202.34 L629.6 202.36 L630.6 202.37 L631.6 202.39 L632.6 202.41 L633.6 202.42 L634.6 202.44 L635.6 202.45 L636.6 202.47 L637.6 202.48 L638.6 202.5 L639.6 202.51 L640.6 202.53 L641.6 202.54 L642.6 202.55 L643.6 202.57 L644.6 202.58 L645.6 202.59 L646.2 202.6" stroke="#00FF00" stroke-dasharray="3.9 2.65"/>
<path d="M453.6 209.5 L454.6 209.26 L455.6 209.03 L456.6 208.79 L457.6 208.56 L458.6 208.34 L459.6 208.11 L460.6 207.89 L461.6 207.67 L462.6 207.45 L463.6 207.24 L464.6 207.02 L465.6 206.81 L466.6 206.6 L467.6 206.4 L468.6 206.19 L469.6 205.99 L470.6 205.79 L471.6 205.59 L472.6 205.4 L473.6 205.21 L474.6 205.02 L475.6 204.83 L476.6 204.64 L477.6 204.46 L478.6 204.28 L479.6 204.1 L480.6 203.92 L481.6 203.74 L482.6 203.57 L483.6 203.4 L484.6 203.23 L485.6 203.07 L486.6 202.9 L487.6 202.74 L488.6 202.58 L489.6 202.42 L490.6 202.26 L491.6 202.11 L492.6 201.95 L493.6 201.8 L494.6 201.65 L495.6 201.51 L496.6 201.36 L497.6 201.22 L498.6 201.08 L499.6 200.94 L500.6 200.8 L501.6 200.67 L502.6 200.53 L503.6 200.4 L504.6 200.27 L505.6 200.14 L506.6 200.02 L507.6 199.89 L508.6 199.77 L509.6 199.65 L510.6 199.53 L511.6 199.41 L512.6 199.3 L513.6 199.18 L514.6 199.07 L515.6 198.96 L516.6 198.85 L517.6 198.74 L518.6 198.64 L519.6 198.53 L520.6 198.43 L521.6 198.33 L522.6 198.23 L523.6 198.13 L524.6 198.03 L525.6 197.94 L526.6 197.85 L527.6 197.75 L528.6 197.66 L529.6 197.58 L530.6 197.49 L531.6 197.4 L532.6 197.32 L533.6 197.23 L534.6 197.15 L535.6 197.07 L536.6 196.99 L537.6 196.92 L538.6 196.84 L539.6 196.77 L540.6 196.69 L541.6 196.62 L542.6 196.55 L543.6 196.48 L544.6 196.41 L545.6 196.35 L546.6 196.28 L547.6 196.22 L548.6 196.15 L549.6 196.09 L550.6 196.03 L551.6 195.97 L552.6 195.91 L553.6 195.86 L554.6 195.8 L555.6 195.75 L556.6 195.69 L557.6 195.64 L558.6 195.59 L559.6 195.54 L560.6 195.49 L561.6 195.44 L562.6 195.39 L563.6 195.35 L564.6 195.3 L565.6 195.26 L566.6 195.21 L567.6 195.17 L568.6 195.13 L569.6 195.09 L570.6 195.05 L571.6 195.01 L572.6 194.98 L573.6 194.94 L574.6 194.9 L575.6 194.87 L576.6 194.83 L577.6 194.8 L578.6 194.77 L579.6 194.74 L580.6 194.71 L581.6 194.68 L582.6 194.65 L583.6 194.62 L584.6 194.59 L585.6 194.57 L586.6 194.54 L587.6 194.51 L588.6 194.49 L589.6 194.47 L590.6 194.44 L591.6 194.42 L592.6 194.4 L593.6 194.38 L594.6 194.36 L595.6 194.34 L596.6 194.32 L597.6 194.3 L598.6 194.28 L599.6 194.26 L600.6 194.24 L601.6 194.23 L602.6 194.21 L603.6 194.19 L604.6 194.18 L605.6 194.16 L606.6 194.15 L607.6 194.14 L608.6 194.12 L609.6 194.11 L610.6 194.1 L611.6 194.08 L612.6 194.07 L613.6 194.06 L614.6 194.05 L615.6 194.04 L616.6 194.03 L617.6 194.02 L618.6 194.01 L619.6 194 L620.6 193.99 L621.6 193.98 L622.6 193.97 L623.6 193.96 L624.6 193.95 L625.6 193.95 L626.6 193.94 L627.6 193.93 L628.6 193.92 L629.6 193.91 L630.6 193.91 L631.6 193.9 L632.6 193.89 L633.6 193.89 L634.6 193.88 L635.6 193.87 L636.6 193.87 L637.6 193.86 L638.6 193.85 L639.6 193.84 L640.6 193.84 L641.6 193.83 L642.6 193.82 L643.6 193.82 L644.6 193.81 L645.6 193.8 L646.2 193.8" stroke="#008080" stroke-dasharray="3.9 2.65"/>
<path d="M453.6 209.5 L454.6 209.16 L455.6 208.82 L456.6 208.48 L457.6 208.15 L458.6 207.82 L459.6 207.49 L460.6 207.16 L461.6 206.84 L462.6 206.52 L463.6 206.2 L464.6 205.88 L465.6 205.57 L466.6 205.25 L467.6 204.94 L468.6 204.64 L469.6 204.33 L470.6 204.03 L471.6 203.72 L472.6 203.42 L473.6 203.13 L474.6 202.83 L475.6 202.54 L476.6 202.24 L477.6 201.95 L478.6 201.67 L479.6 201.38 L480.6 201.1 L481.6 200.81 L482.6 200.53 L483.6 200.25 L484.6 199.98 L485.6 199.7 L486.6 199.43 L487.6 199.16 L488.6 198.89 L489.6 198.62 L490.6 198.35 L491.6 198.08 L492.6 197.82 L493.6 197.56 L494.6 197.3 L495.6 197.04 L496.6 196.78 L497.6 196.52 L498.6 196.27 L499.6 196.02 L500.6 195.76 L501.6 195.51 L502.6 195.26 L503.6 195.02 L504.6 194.77 L505.6 194.52 L506.6 194.28 L507.6 194.04 L508.6 193.8 L509.6 193.55 L510.6 193.31 L511.6 193.08 L512.6 192.84 L513.6 192.6 L514.6 192.37 L515.6 192.13 L516.6 191.9 L517.6 191.67 L518.6 191.44 L519.6 191.21 L520.6 190.98 L521.6 190.75 L522.6 190.52 L523.6 190.29 L524.6 190.07 L525.6 189.84 L526.6 189.62 L527.6 189.39 L528.6 189.17 L529.6 188.95 L530.6 188.72 L531.6 188.5 L532.6 188.28 L533.6 188.06 L534.6 187.84 L535.6 187.62 L536.6 187.4 L537.6 187.18 L538.6 186.97 L539.6 186.75 L540.6 186.53 L541.6 186.31 L542.6 186.1 L543.6 185.88 L544.6 185.67 L545.6 185.45 L546.6 185.23 L547.6 185.02 L548.6 184.8 L549.6 184.59 L550.6 184.37 L551.6 184.16 L552.6 183.95 L553.6 183.73 L554.6 183.52 L555.6 183.3 L556.6 183.09 L557.6 182.87 L558.6 182.66 L559.6 182.44 L560.6 182.23 L561.6 182.01 L562.6 181.8 L563.6 181.58 L564.6 181.37 L565.6 181.15 L566.6 180.93 L567.6 180.72 L568.6 180.5 L569.6 180.28 L570.6 180.06 L571.6 179.85 L572.6 179.63 L573.6 179.41 L574.6 179.19 L575.6 178.97 L576.6 178.75 L577.6 178.53 L578.6 178.31 L579.6 178.08 L580.6 177.86 L581.6 177.64 L582.6 177.41 L583.6 177.19 L584.6 176.96 L585.6 176.74 L586.6 176.51 L587.6 176.28 L588.6 176.05 L589.6 175.82 L590.6 175.59 L591.6 175.36 L592.6 175.13 L593.6 174.89 L594.6 174.66 L595.6 174.42 L596.6 174.19 L597.6 173.95 L598.6 173.71 L599.6 173.47 L600.6 173.23 L601.6 172.99 L602.6 172.74 L603.6 172.5 L604.6 172.25 L605.6 172.01 L606.6 171.76 L607.6 171.51 L608.6 171.26 L609.6 171.01 L610.6 170.75 L611.6 170.5 L612.6 170.24 L613.6 169.98 L614.6 169.72 L615.6 169.46 L616.6 169.2 L617.6 168.93 L618.6 168.67 L619.6 168.4 L620.6 168.13 L621.6 167.86 L622.6 167.59 L623.6 167.31 L624.6 167.04 L625.6 166.76 L626.6 166.48 L627.6 166.2 L628.6 165.92 L629.6 165.63 L630.6 165.34 L631.6 165.05 L632.6 164.76 L633.6 164.47 L634.6 164.18 L635.6 163.88 L636.6 163.58 L637.6 163.28 L638.6 162.98 L639.6 162.67 L640.6 162.36 L641.6 162.05 L642.6 161.74 L643.6 161.43 L644.6 161.11 L645.6 160.79 L646.2 160.6" stroke="#EC008C" stroke-dasharray="3.9 2.65"/>
<path d="M453.6 209.5 L454.44 209.13 L455.17 208.76 L455.85 208.39 L456.5 208.02 L457.14 207.65 L457.77 207.28 L458.38 206.91 L458.98 206.54 L459.57 206.17 L460.15 205.8 L460.72 205.43 L461.29 205.06 L461.85 204.69 L462.4 204.32 L462.95 203.95 L463.49 203.58 L464.03 203.21 L464.56 202.84 L465.09 202.47 L465.61 202.1 L466.12 201.73 L466.63 201.36 L467.14 200.99 L467.64 200.63 L468.13 200.26 L468.62 199.89 L469.11 199.52 L469.59 199.15 L470.07 198.78 L470.54 198.41 L471.01 198.04 L471.47 197.67 L471.93 197.3 L472.38 196.93 L472.83 196.56 L473.28 196.19 L473.72 195.82 L474.15 195.45 L474.58 195.08 L475.01 194.71 L475.43 194.34 L475.85 193.97 L476.26 193.6 L476.67 193.23 L477.07 192.86 L477.47 192.49 L477.87 192.12 L478.26 191.75 L478.64 191.38 L479.03 191.01 L479.4 190.64 L479.77 190.27 L480.14 189.9 L480.5 189.53 L480.86 189.16 L481.22 188.79 L481.56 188.42 L481.91 188.05 L482.25 187.68 L482.58 187.31 L482.92 186.94 L483.24 186.57 L483.56 186.2 L483.88 185.83 L484.19 185.46 L484.5 185.09 L484.81 184.72 L485.11 184.35 L485.4 183.98 L485.69 183.62 L485.98 183.25 L486.26 182.88 L486.54 182.51 L486.81 182.14 L487.08 181.77 L487.35 181.4 L487.61 181.03 L487.86 180.66 L488.11 180.29 L488.36 179.92 L488.61 179.55 L488.84 179.18 L489.08 178.81 L489.31 178.44 L489.54 178.07 L489.76 177.7 L489.98 177.33 L490.2 176.96 L490.41 176.59 L490.62 176.22 L490.82 175.85 L491.02 175.48 L491.22 175.11 L491.41 174.74 L491.6 174.37 L491.79 174 L491.97 173.63 L492.15 173.26 L492.32 172.89 L492.49 172.52 L492.66 172.15 L492.83 171.78 L492.99 171.41 L493.15 171.04 L493.3 170.67 L493.46 170.3 L493.61 169.93 L493.75 169.56 L493.9 169.19 L494.04 168.82 L494.18 168.45 L494.31 168.08 L494.44 167.71 L494.57 167.34 L494.7 166.97 L494.83 166.61 L494.95 166.24 L495.07 165.87 L495.19 165.5 L495.3 165.13 L495.42 164.76 L495.53 164.39 L495.64 164.02 L495.74 163.65 L495.85 163.28 L495.95 162.91 L496.05 162.54 L496.15 162.17 L496.25 161.8 L496.34 161.43 L496.44 161.06 L496.53 160.69 L496.62 160.32 L496.71 159.95 L496.79 159.58 L496.87 159.21 L496.95 158.84 L497.03 158.47 L497.1 158.1" stroke="#000000" stroke-dasharray="3.9 2.65"/>
</g>
<path d="M453.6 17H646.2V209.5H453.6Z" stroke="#000" stroke-width="0.78" fill="none"/>
</g>
<path d="M646.2 209.5V17" stroke="#00FF00" stroke-width="0.9" stroke-dasharray="1.1 2.54" fill="none"/>
<path d="M43.2 209.3H235.8" stroke="#0000FF" stroke-width="1.1" fill="none"/>
<path d="M248.4 209.3H441" stroke="#0000FF" stroke-width="1.1" fill="none"/>
<path d="M631.9 209.3H646.2" stroke="#008A00" stroke-width="1.1" fill="none"/>
<path d="M617.2 209.3H631.9" stroke="#A80000" stroke-width="1.1" fill="none"/>
<path d="M453.6 209.3H617.2" stroke="#0000FF" stroke-width="1.1" fill="none"/>
<text x="43.2" y="223.1" text-anchor="middle">0</text>
<text x="91.35" y="223.1" text-anchor="middle">1</text>
<text x="139.5" y="223.1" text-anchor="middle">2</text>
<text x="187.65" y="223.1" text-anchor="middle">3</text>
<text x="235.8" y="223.1" text-anchor="middle">4</text>
<text class="i" x="139.8" y="240.7" text-anchor="middle">U</text>
<text x="46.3" y="10.8" style="font-size:12.7px">·10<tspan class="sub" dy="-5.0">−2</tspan></text>
<text x="197" y="41.9" text-anchor="middle">a)</text>
<text x="197" y="56.6" text-anchor="middle"><tspan class="i">n</tspan> = 3</text>
<text x="248.4" y="223.1" text-anchor="middle">0</text>
<text x="296.55" y="223.1" text-anchor="middle">1</text>
<text x="344.7" y="223.1" text-anchor="middle">2</text>
<text x="392.85" y="223.1" text-anchor="middle">3</text>
<text x="441" y="223.1" text-anchor="middle">4</text>
<text class="i" x="345" y="240.7" text-anchor="middle">U</text>
<text x="251.5" y="10.8" style="font-size:12.7px">·10<tspan class="sub" dy="-5.0">−2</tspan></text>
<text x="402.2" y="41.9" text-anchor="middle">b)</text>
<text x="402.2" y="56.6" text-anchor="middle"><tspan class="i">n</tspan> = 4</text>
<text x="453.6" y="223.1" text-anchor="middle">0</text>
<text x="501.75" y="223.1" text-anchor="middle">1</text>
<text x="549.9" y="223.1" text-anchor="middle">2</text>
<text x="598.05" y="223.1" text-anchor="middle">3</text>
<text x="646.2" y="223.1" text-anchor="middle">4</text>
<text class="i" x="550.2" y="240.7" text-anchor="middle">U</text>
<text x="456.7" y="10.8" style="font-size:12.7px">·10<tspan class="sub" dy="-5.0">−2</tspan></text>
<text x="607.4" y="41.9" text-anchor="middle">c)</text>
<text x="607.4" y="56.6" text-anchor="middle"><tspan class="i">n</tspan> = 5</text>
<text x="38.3" y="213.9" text-anchor="end">0</text>
<text x="38.3" y="162.57" text-anchor="end">2</text>
<text x="38.3" y="111.23" text-anchor="end">4</text>
<text x="38.3" y="59.9" text-anchor="end">6</text>
<g transform="rotate(-90)"><text class="br" style="font-size:21.4px" transform="translate(-160.37 19.15) scale(0.74 1)">⟨</text><text class="i" x="-153.5" y="16.1">s</text><text class="i sub" x="-149" y="18.9">α</text><text class="i" x="-143.4" y="16.1">s</text><text class="i sub" x="-139" y="18.9">β</text><text class="br" style="font-size:21.4px" transform="translate(-131.64 19.15) scale(0.74 1)">⟩</text><text x="-122.9" y="16.1">−</text><text class="br" style="font-size:12.1px" transform="translate(-112.66 16.93) scale(0.78 1)">⟨</text><text class="i" x="-106.9" y="16.1">s</text><text class="i sub" x="-102.4" y="18.9">α</text><text class="br" style="font-size:12.1px" transform="translate(-94.9 16.93) scale(0.78 1)">⟩</text><text class="br" style="font-size:21.4px" transform="translate(-89.17 19.15) scale(0.74 1)">⟨</text><text class="i" x="-82.5" y="16.1">s</text><text class="i sub" x="-78.2" y="18.9">β</text><text class="br" style="font-size:21.4px" transform="translate(-71.74 19.15) scale(0.74 1)">⟩</text></g>
</svg></body></html>
